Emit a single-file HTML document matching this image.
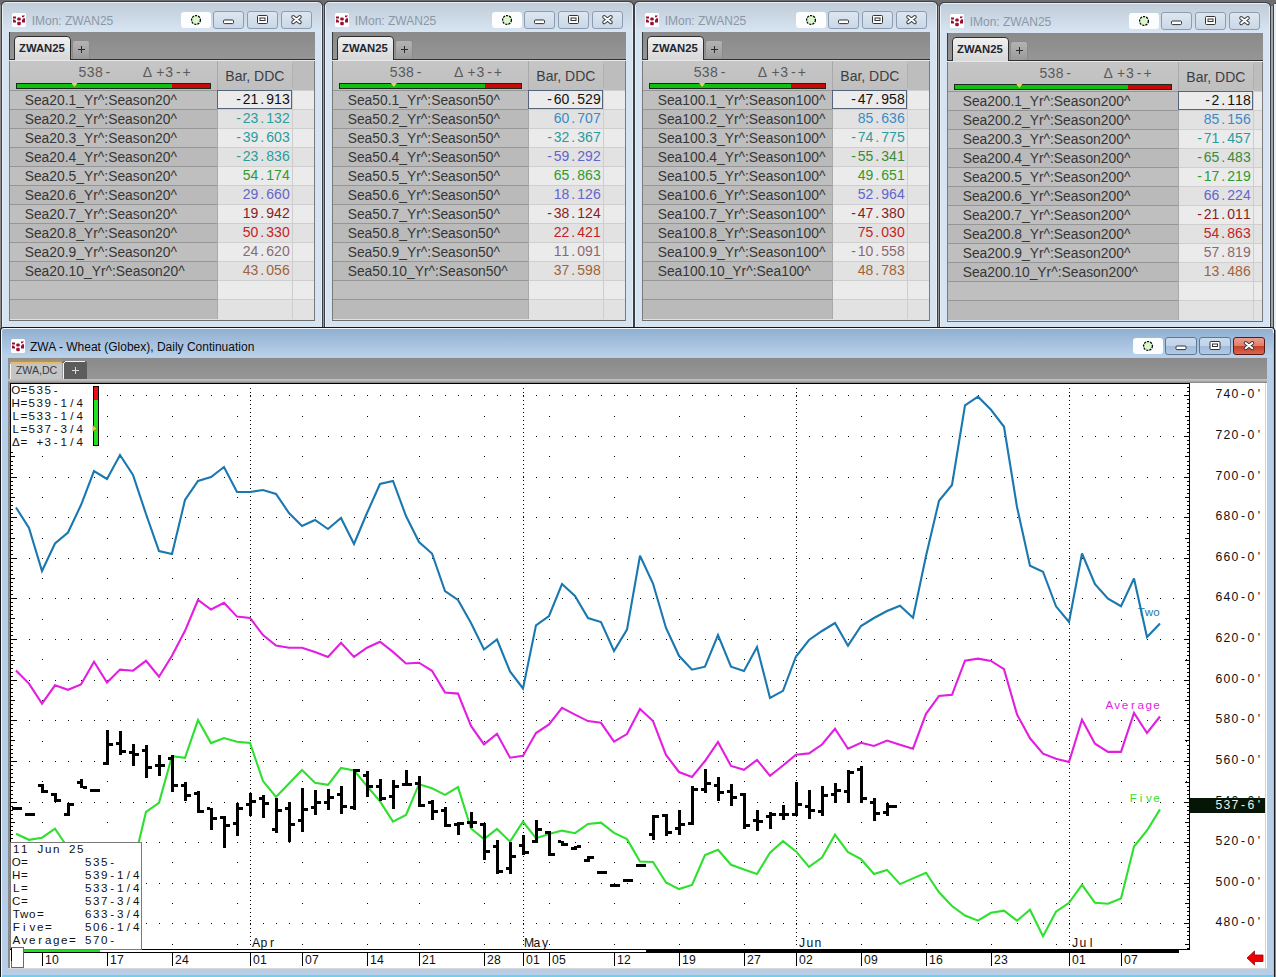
<!DOCTYPE html><html><head><meta charset="utf-8"><title>ZWA</title><style>
*{margin:0;padding:0}html,body{width:1276px;height:977px;overflow:hidden;background:#707070}
svg{position:absolute;left:0;top:0;font-family:"Liberation Sans", sans-serif}
</style></head><body>
<svg width="1276" height="977" viewBox="0 0 1276 977">
<defs>
<linearGradient id="gTitleI" x1="0" y1="0" x2="0" y2="1"><stop offset="0" stop-color="#c0ccd8"/><stop offset="1" stop-color="#d8e5f2"/></linearGradient>
<linearGradient id="gTitleA" x1="0" y1="0" x2="0" y2="1"><stop offset="0" stop-color="#90afd0"/><stop offset="1" stop-color="#bad2eb"/></linearGradient>
<linearGradient id="gTabArea" x1="0" y1="0" x2="0" y2="1"><stop offset="0" stop-color="#8a8a8a"/><stop offset="1" stop-color="#969696"/></linearGradient>
<linearGradient id="gTab" x1="0" y1="0" x2="0" y2="1"><stop offset="0" stop-color="#f2f2f2"/><stop offset="1" stop-color="#d6d6d6"/></linearGradient>
<linearGradient id="gPlus" x1="0" y1="0" x2="0" y2="1"><stop offset="0" stop-color="#b4b4b4"/><stop offset="1" stop-color="#9a9a9a"/></linearGradient>
<linearGradient id="gHdr" x1="0" y1="0" x2="0" y2="1"><stop offset="0" stop-color="#c6c6c6"/><stop offset="1" stop-color="#bfbfbf"/></linearGradient>
<linearGradient id="gBtnI" x1="0" y1="0" x2="0" y2="1"><stop offset="0" stop-color="#dde7f1"/><stop offset="1" stop-color="#c9d7e6"/></linearGradient>
<linearGradient id="gBtnA" x1="0" y1="0" x2="0" y2="1"><stop offset="0" stop-color="#cbdbee"/><stop offset="0.5" stop-color="#c0d3ea"/><stop offset="0.52" stop-color="#a3bcdb"/><stop offset="1" stop-color="#b4cae4"/></linearGradient>
<linearGradient id="gClose" x1="0" y1="0" x2="0" y2="1"><stop offset="0" stop-color="#eba090"/><stop offset="0.5" stop-color="#df7d68"/><stop offset="0.52" stop-color="#c8402a"/><stop offset="1" stop-color="#d86a50"/></linearGradient>
<linearGradient id="gBand" x1="0" y1="0" x2="0" y2="1"><stop offset="0" stop-color="#c4c4c4"/><stop offset="0.5" stop-color="#b4b4b4"/><stop offset="1" stop-color="#7e7e7e"/></linearGradient>
</defs>
<g shape-rendering="crispEdges">
<rect x="0" y="0" width="1276" height="977" fill="#6d6d6f" />
<path d="M1.5,330 L1.5,6 Q1.5,1.5 6,1.5 L317.5,1.5 Q322.5,1.5 322.5,6 L322.5,330" fill="#3c4046" stroke="#3c4046" stroke-width="1" shape-rendering="auto"/>
<path d="M2.5,330 L2.5,6 Q2.5,2.5 6,2.5 L317.5,2.5 Q321.5,2.5 321.5,6 L321.5,330" fill="#e8eef5" stroke="#e8eef5" stroke-width="1" shape-rendering="auto"/>
<rect x="3" y="3" width="318" height="29" fill="url(#gTitleI)" />
<rect x="3" y="32" width="318" height="298" fill="#d6e3f0" />
<rect x="12" y="13" width="14" height="14" rx="1.5" fill="#ffffff" shape-rendering="auto"/>
<g fill="#9a1030" shape-rendering="auto"><rect x="13" y="16.5" width="3" height="2"/><path d="M13,19.5 L14.5,19.5 L16,21 L16,22.5 L13,22.5 Z"/><rect x="17.2" y="17.6" width="3.6" height="3" rx="1.3"/><rect x="17.2" y="21.8" width="3.6" height="3.4" rx="1.3"/><path d="M22,15.5 L25,15.5 L23.5,17.3 L22,17.3 Z"/><path d="M23.5,18.3 L25,18.3 L25,22.6 L22,22.6 L22,20 Z"/></g>
<text x="31.7" y="24.8" font-size="12" fill="#8a98a6" text-anchor="start" font-weight="normal" >IMon: ZWAN25</text>
<rect x="181" y="12" width="30" height="16" rx="3" fill="#fbfdff" shape-rendering="auto"/>
<circle cx="196.0" cy="20.0" r="4.4" fill="#d9f7c9" stroke="#000" stroke-width="1.25" stroke-dasharray="2.2 1.0" shape-rendering="auto"/>
<rect x="213.5" y="11.5" width="30" height="17" rx="2.5" fill="url(#gBtnI)" stroke="#8d9cb0" shape-rendering="auto"/>
<rect x="223.5" y="20.0" width="10" height="3.6" rx="1" fill="#fff" stroke="#333" shape-rendering="auto"/>
<rect x="247.5" y="11.5" width="30" height="17" rx="2.5" fill="url(#gBtnI)" stroke="#8d9cb0" shape-rendering="auto"/>
<rect x="257.5" y="15.5" width="10" height="8" rx="1" fill="#fff" stroke="#333" stroke-width="1" shape-rendering="auto"/>
<rect x="260.0" y="18.0" width="5" height="2.5" fill="none" stroke="#333" stroke-width="1" shape-rendering="auto"/>
<rect x="281.5" y="11.5" width="30" height="17" rx="2.5" fill="url(#gBtnI)" stroke="#8d9cb0" shape-rendering="auto"/>
<path d="M293.2,17.0 L299.8,22.2 M299.8,17.0 L293.2,22.2" stroke="#3a3a3a" stroke-width="3.9" stroke-linecap="round" fill="none" shape-rendering="auto"/>
<path d="M293.2,17.0 L299.8,22.2 M299.8,17.0 L293.2,22.2" stroke="#fff" stroke-width="2.0" stroke-linecap="round" fill="none" shape-rendering="auto"/>
<rect x="9" y="32" width="306" height="28" fill="url(#gTabArea)" />
<rect x="9" y="32" width="1" height="28" fill="#3a3a3a" />
<rect x="9" y="59" width="306" height="1" fill="#303030" />
<rect x="9" y="60" width="306" height="1" fill="#e8e8e8" />
<path d="M14.5,60 L14.5,40 Q14.5,36.5 18,36.5 L67,36.5 Q70.5,36.5 70.5,40 L70.5,60" fill="url(#gTab)" stroke="#2e2e2e" stroke-width="1" shape-rendering="auto"/>
<rect x="15" y="59" width="55" height="1" fill="#dcdcdc" />
<text x="19" y="51.6" font-size="11.3" fill="#1e2630" text-anchor="start" font-weight="bold" >ZWAN25</text>
<path d="M72.5,59 L72.5,43 Q72.5,40.5 75,40.5 L87,40.5 Q89.5,40.5 89.5,43 L89.5,59" fill="url(#gPlus)" stroke="#8a8a8a" stroke-width="1" shape-rendering="auto"/>
<rect x="78" y="49" width="7" height="1" fill="#2a2a2a" />
<rect x="81" y="46" width="1" height="7" fill="#2a2a2a" />
<rect x="9" y="61" width="306" height="29" fill="url(#gHdr)" />
<rect x="292" y="61" width="23" height="29" fill="#bdbdbd" />
<rect x="217" y="61" width="1" height="29" fill="#a9a9a9" />
<rect x="292" y="64" width="1" height="24" fill="#b0b0b0" />
<rect x="16" y="83" width="195" height="6" fill="#1a2a1a" />
<rect x="17" y="84" width="155" height="4" fill="#10c010" />
<rect x="172" y="84" width="38" height="4" fill="#c80808" />
<path d="M71.5,83 L77.5,83 L74.5,87 Z" fill="#e8d060" shape-rendering="auto"/>
<text x="82.5 90.65 98.8 107.9" y="76.7" font-size="14" fill="#5a5a5a" text-anchor="middle" font-weight="normal">538-</text>
<text x="147.4 160.4 169.1 178.3 186.7" y="76.7" font-size="14" fill="#5a5a5a" text-anchor="middle" font-weight="normal">Δ+3-+</text>
<text x="225.3" y="81" font-size="14" fill="#3b3e44" text-anchor="start" font-weight="normal" >Bar, DDC</text>
<rect x="9" y="90" width="208" height="19" fill="#bfbfbf" />
<rect x="217" y="90" width="98" height="19" fill="#ebebeb" />
<rect x="9" y="90" width="208" height="1" fill="#969696" />
<rect x="217" y="90" width="98" height="1" fill="#cfcfcf" />
<rect x="217" y="90" width="1" height="19" fill="#a9a9a9" />
<rect x="292" y="90" width="1" height="19" fill="#cdcdcd" />
<text x="24.7" y="104.8" font-size="13.85" fill="#363636" text-anchor="start" font-weight="normal" >Sea20.1_Yr^:Season20^</text>
<text x="238.7 246.55 254.4 262.25 270.1 277.95 285.8" y="103.8" font-size="14" fill="#111111" text-anchor="middle" font-weight="normal">-21.913</text>
<rect x="9" y="109" width="208" height="19" fill="#bababa" />
<rect x="217" y="109" width="98" height="19" fill="#e2e2e2" />
<rect x="9" y="109" width="208" height="1" fill="#969696" />
<rect x="217" y="109" width="98" height="1" fill="#cfcfcf" />
<rect x="217" y="109" width="1" height="19" fill="#a9a9a9" />
<rect x="292" y="109" width="1" height="19" fill="#cdcdcd" />
<text x="24.7" y="123.8" font-size="13.85" fill="#363636" text-anchor="start" font-weight="normal" >Sea20.2_Yr^:Season20^</text>
<text x="238.7 246.55 254.4 262.25 270.1 277.95 285.8" y="122.8" font-size="14" fill="#2a9c9c" text-anchor="middle" font-weight="normal">-23.132</text>
<rect x="9" y="128" width="208" height="19" fill="#bfbfbf" />
<rect x="217" y="128" width="98" height="19" fill="#ebebeb" />
<rect x="9" y="128" width="208" height="1" fill="#969696" />
<rect x="217" y="128" width="98" height="1" fill="#cfcfcf" />
<rect x="217" y="128" width="1" height="19" fill="#a9a9a9" />
<rect x="292" y="128" width="1" height="19" fill="#cdcdcd" />
<text x="24.7" y="142.8" font-size="13.85" fill="#363636" text-anchor="start" font-weight="normal" >Sea20.3_Yr^:Season20^</text>
<text x="238.7 246.55 254.4 262.25 270.1 277.95 285.8" y="141.8" font-size="14" fill="#2a9c9c" text-anchor="middle" font-weight="normal">-39.603</text>
<rect x="9" y="147" width="208" height="19" fill="#bababa" />
<rect x="217" y="147" width="98" height="19" fill="#e2e2e2" />
<rect x="9" y="147" width="208" height="1" fill="#969696" />
<rect x="217" y="147" width="98" height="1" fill="#cfcfcf" />
<rect x="217" y="147" width="1" height="19" fill="#a9a9a9" />
<rect x="292" y="147" width="1" height="19" fill="#cdcdcd" />
<text x="24.7" y="161.8" font-size="13.85" fill="#363636" text-anchor="start" font-weight="normal" >Sea20.4_Yr^:Season20^</text>
<text x="238.7 246.55 254.4 262.25 270.1 277.95 285.8" y="160.8" font-size="14" fill="#2a9c9c" text-anchor="middle" font-weight="normal">-23.836</text>
<rect x="9" y="166" width="208" height="19" fill="#bfbfbf" />
<rect x="217" y="166" width="98" height="19" fill="#ebebeb" />
<rect x="9" y="166" width="208" height="1" fill="#969696" />
<rect x="217" y="166" width="98" height="1" fill="#cfcfcf" />
<rect x="217" y="166" width="1" height="19" fill="#a9a9a9" />
<rect x="292" y="166" width="1" height="19" fill="#cdcdcd" />
<text x="24.7" y="180.8" font-size="13.85" fill="#363636" text-anchor="start" font-weight="normal" >Sea20.5_Yr^:Season20^</text>
<text x="246.55 254.4 262.25 270.1 277.95 285.8" y="179.8" font-size="14" fill="#2f9a2f" text-anchor="middle" font-weight="normal">54.174</text>
<rect x="9" y="185" width="208" height="19" fill="#bababa" />
<rect x="217" y="185" width="98" height="19" fill="#e2e2e2" />
<rect x="9" y="185" width="208" height="1" fill="#969696" />
<rect x="217" y="185" width="98" height="1" fill="#cfcfcf" />
<rect x="217" y="185" width="1" height="19" fill="#a9a9a9" />
<rect x="292" y="185" width="1" height="19" fill="#cdcdcd" />
<text x="24.7" y="199.8" font-size="13.85" fill="#363636" text-anchor="start" font-weight="normal" >Sea20.6_Yr^:Season20^</text>
<text x="246.55 254.4 262.25 270.1 277.95 285.8" y="198.8" font-size="14" fill="#6464cc" text-anchor="middle" font-weight="normal">29.660</text>
<rect x="9" y="204" width="208" height="19" fill="#bfbfbf" />
<rect x="217" y="204" width="98" height="19" fill="#ebebeb" />
<rect x="9" y="204" width="208" height="1" fill="#969696" />
<rect x="217" y="204" width="98" height="1" fill="#cfcfcf" />
<rect x="217" y="204" width="1" height="19" fill="#a9a9a9" />
<rect x="292" y="204" width="1" height="19" fill="#cdcdcd" />
<text x="24.7" y="218.8" font-size="13.85" fill="#363636" text-anchor="start" font-weight="normal" >Sea20.7_Yr^:Season20^</text>
<text x="246.55 254.4 262.25 270.1 277.95 285.8" y="217.8" font-size="14" fill="#8a1c1c" text-anchor="middle" font-weight="normal">19.942</text>
<rect x="9" y="223" width="208" height="19" fill="#bababa" />
<rect x="217" y="223" width="98" height="19" fill="#e2e2e2" />
<rect x="9" y="223" width="208" height="1" fill="#969696" />
<rect x="217" y="223" width="98" height="1" fill="#cfcfcf" />
<rect x="217" y="223" width="1" height="19" fill="#a9a9a9" />
<rect x="292" y="223" width="1" height="19" fill="#cdcdcd" />
<text x="24.7" y="237.8" font-size="13.85" fill="#363636" text-anchor="start" font-weight="normal" >Sea20.8_Yr^:Season20^</text>
<text x="246.55 254.4 262.25 270.1 277.95 285.8" y="236.8" font-size="14" fill="#c42424" text-anchor="middle" font-weight="normal">50.330</text>
<rect x="9" y="242" width="208" height="19" fill="#bfbfbf" />
<rect x="217" y="242" width="98" height="19" fill="#ebebeb" />
<rect x="9" y="242" width="208" height="1" fill="#969696" />
<rect x="217" y="242" width="98" height="1" fill="#cfcfcf" />
<rect x="217" y="242" width="1" height="19" fill="#a9a9a9" />
<rect x="292" y="242" width="1" height="19" fill="#cdcdcd" />
<text x="24.7" y="256.8" font-size="13.85" fill="#363636" text-anchor="start" font-weight="normal" >Sea20.9_Yr^:Season20^</text>
<text x="246.55 254.4 262.25 270.1 277.95 285.8" y="255.8" font-size="14" fill="#8a6a72" text-anchor="middle" font-weight="normal">24.620</text>
<rect x="9" y="261" width="208" height="19" fill="#bababa" />
<rect x="217" y="261" width="98" height="19" fill="#e2e2e2" />
<rect x="9" y="261" width="208" height="1" fill="#969696" />
<rect x="217" y="261" width="98" height="1" fill="#cfcfcf" />
<rect x="217" y="261" width="1" height="19" fill="#a9a9a9" />
<rect x="292" y="261" width="1" height="19" fill="#cdcdcd" />
<text x="24.7" y="275.8" font-size="13.85" fill="#363636" text-anchor="start" font-weight="normal" >Sea20.10_Yr^:Season20^</text>
<text x="246.55 254.4 262.25 270.1 277.95 285.8" y="274.8" font-size="14" fill="#a0623a" text-anchor="middle" font-weight="normal">43.056</text>
<rect x="9" y="280" width="208" height="19" fill="#bfbfbf" />
<rect x="217" y="280" width="98" height="19" fill="#ebebeb" />
<rect x="9" y="280" width="208" height="1" fill="#969696" />
<rect x="217" y="280" width="98" height="1" fill="#cfcfcf" />
<rect x="217" y="280" width="1" height="19" fill="#a9a9a9" />
<rect x="292" y="280" width="1" height="19" fill="#cdcdcd" />
<rect x="9" y="299" width="208" height="20" fill="#bababa" />
<rect x="217" y="299" width="98" height="20" fill="#e2e2e2" />
<rect x="9" y="299" width="208" height="1" fill="#969696" />
<rect x="217" y="299" width="98" height="1" fill="#cfcfcf" />
<rect x="217" y="299" width="1" height="20" fill="#a9a9a9" />
<rect x="292" y="299" width="1" height="20" fill="#cdcdcd" />
<rect x="217.5" y="90.5" width="74" height="18" fill="none" stroke="#56657a"/>
<rect x="9" y="61" width="1" height="259" fill="#7a7a7a" />
<rect x="314" y="61" width="1" height="259" fill="#7a7a7a" />
<rect x="9" y="320" width="306" height="1" fill="#6e6e6e" />
<path d="M324.5,330 L324.5,6 Q324.5,1.5 329,1.5 L628.5,1.5 Q633.5,1.5 633.5,6 L633.5,330" fill="#3c4046" stroke="#3c4046" stroke-width="1" shape-rendering="auto"/>
<path d="M325.5,330 L325.5,6 Q325.5,2.5 329,2.5 L628.5,2.5 Q632.5,2.5 632.5,6 L632.5,330" fill="#e8eef5" stroke="#e8eef5" stroke-width="1" shape-rendering="auto"/>
<rect x="326" y="3" width="306" height="29" fill="url(#gTitleI)" />
<rect x="326" y="32" width="306" height="298" fill="#d6e3f0" />
<rect x="335" y="13" width="14" height="14" rx="1.5" fill="#ffffff" shape-rendering="auto"/>
<g fill="#9a1030" shape-rendering="auto"><rect x="336" y="16.5" width="3" height="2"/><path d="M336,19.5 L337.5,19.5 L339,21 L339,22.5 L336,22.5 Z"/><rect x="340.2" y="17.6" width="3.6" height="3" rx="1.3"/><rect x="340.2" y="21.8" width="3.6" height="3.4" rx="1.3"/><path d="M345,15.5 L348,15.5 L346.5,17.3 L345,17.3 Z"/><path d="M346.5,18.3 L348,18.3 L348,22.6 L345,22.6 L345,20 Z"/></g>
<text x="354.7" y="24.8" font-size="12" fill="#8a98a6" text-anchor="start" font-weight="normal" >IMon: ZWAN25</text>
<rect x="492" y="12" width="30" height="16" rx="3" fill="#fbfdff" shape-rendering="auto"/>
<circle cx="507.0" cy="20.0" r="4.4" fill="#d9f7c9" stroke="#000" stroke-width="1.25" stroke-dasharray="2.2 1.0" shape-rendering="auto"/>
<rect x="524.5" y="11.5" width="30" height="17" rx="2.5" fill="url(#gBtnI)" stroke="#8d9cb0" shape-rendering="auto"/>
<rect x="534.5" y="20.0" width="10" height="3.6" rx="1" fill="#fff" stroke="#333" shape-rendering="auto"/>
<rect x="558.5" y="11.5" width="30" height="17" rx="2.5" fill="url(#gBtnI)" stroke="#8d9cb0" shape-rendering="auto"/>
<rect x="568.5" y="15.5" width="10" height="8" rx="1" fill="#fff" stroke="#333" stroke-width="1" shape-rendering="auto"/>
<rect x="571.0" y="18.0" width="5" height="2.5" fill="none" stroke="#333" stroke-width="1" shape-rendering="auto"/>
<rect x="592.5" y="11.5" width="30" height="17" rx="2.5" fill="url(#gBtnI)" stroke="#8d9cb0" shape-rendering="auto"/>
<path d="M604.2,17.0 L610.8,22.2 M610.8,17.0 L604.2,22.2" stroke="#3a3a3a" stroke-width="3.9" stroke-linecap="round" fill="none" shape-rendering="auto"/>
<path d="M604.2,17.0 L610.8,22.2 M610.8,17.0 L604.2,22.2" stroke="#fff" stroke-width="2.0" stroke-linecap="round" fill="none" shape-rendering="auto"/>
<rect x="332" y="32" width="294" height="28" fill="url(#gTabArea)" />
<rect x="332" y="32" width="1" height="28" fill="#3a3a3a" />
<rect x="332" y="59" width="294" height="1" fill="#303030" />
<rect x="332" y="60" width="294" height="1" fill="#e8e8e8" />
<path d="M337.5,60 L337.5,40 Q337.5,36.5 341,36.5 L390,36.5 Q393.5,36.5 393.5,40 L393.5,60" fill="url(#gTab)" stroke="#2e2e2e" stroke-width="1" shape-rendering="auto"/>
<rect x="338" y="59" width="55" height="1" fill="#dcdcdc" />
<text x="342" y="51.6" font-size="11.3" fill="#1e2630" text-anchor="start" font-weight="bold" >ZWAN25</text>
<path d="M395.5,59 L395.5,43 Q395.5,40.5 398,40.5 L410,40.5 Q412.5,40.5 412.5,43 L412.5,59" fill="url(#gPlus)" stroke="#8a8a8a" stroke-width="1" shape-rendering="auto"/>
<rect x="401" y="49" width="7" height="1" fill="#2a2a2a" />
<rect x="404" y="46" width="1" height="7" fill="#2a2a2a" />
<rect x="332" y="61" width="294" height="29" fill="url(#gHdr)" />
<rect x="603" y="61" width="23" height="29" fill="#bdbdbd" />
<rect x="528" y="61" width="1" height="29" fill="#a9a9a9" />
<rect x="603" y="64" width="1" height="24" fill="#b0b0b0" />
<rect x="339" y="83" width="183" height="6" fill="#1a2a1a" />
<rect x="340" y="84" width="145" height="4" fill="#10c010" />
<rect x="485" y="84" width="36" height="4" fill="#c80808" />
<path d="M390.9,83 L396.9,83 L393.9,87 Z" fill="#e8d060" shape-rendering="auto"/>
<text x="393.7 401.85 410.0 419.1" y="76.7" font-size="14" fill="#5a5a5a" text-anchor="middle" font-weight="normal">538-</text>
<text x="458.6 471.6 480.3 489.5 497.9" y="76.7" font-size="14" fill="#5a5a5a" text-anchor="middle" font-weight="normal">Δ+3-+</text>
<text x="536.3" y="81" font-size="14" fill="#3b3e44" text-anchor="start" font-weight="normal" >Bar, DDC</text>
<rect x="332" y="90" width="196" height="19" fill="#bfbfbf" />
<rect x="528" y="90" width="98" height="19" fill="#ebebeb" />
<rect x="332" y="90" width="196" height="1" fill="#969696" />
<rect x="528" y="90" width="98" height="1" fill="#cfcfcf" />
<rect x="528" y="90" width="1" height="19" fill="#a9a9a9" />
<rect x="603" y="90" width="1" height="19" fill="#cdcdcd" />
<text x="347.7" y="104.8" font-size="13.85" fill="#363636" text-anchor="start" font-weight="normal" >Sea50.1_Yr^:Season50^</text>
<text x="549.7 557.55 565.4 573.25 581.1 588.95 596.8" y="103.8" font-size="14" fill="#111111" text-anchor="middle" font-weight="normal">-60.529</text>
<rect x="332" y="109" width="196" height="19" fill="#bababa" />
<rect x="528" y="109" width="98" height="19" fill="#e2e2e2" />
<rect x="332" y="109" width="196" height="1" fill="#969696" />
<rect x="528" y="109" width="98" height="1" fill="#cfcfcf" />
<rect x="528" y="109" width="1" height="19" fill="#a9a9a9" />
<rect x="603" y="109" width="1" height="19" fill="#cdcdcd" />
<text x="347.7" y="123.8" font-size="13.85" fill="#363636" text-anchor="start" font-weight="normal" >Sea50.2_Yr^:Season50^</text>
<text x="557.55 565.4 573.25 581.1 588.95 596.8" y="122.8" font-size="14" fill="#3a8ac6" text-anchor="middle" font-weight="normal">60.707</text>
<rect x="332" y="128" width="196" height="19" fill="#bfbfbf" />
<rect x="528" y="128" width="98" height="19" fill="#ebebeb" />
<rect x="332" y="128" width="196" height="1" fill="#969696" />
<rect x="528" y="128" width="98" height="1" fill="#cfcfcf" />
<rect x="528" y="128" width="1" height="19" fill="#a9a9a9" />
<rect x="603" y="128" width="1" height="19" fill="#cdcdcd" />
<text x="347.7" y="142.8" font-size="13.85" fill="#363636" text-anchor="start" font-weight="normal" >Sea50.3_Yr^:Season50^</text>
<text x="549.7 557.55 565.4 573.25 581.1 588.95 596.8" y="141.8" font-size="14" fill="#2a9c9c" text-anchor="middle" font-weight="normal">-32.367</text>
<rect x="332" y="147" width="196" height="19" fill="#bababa" />
<rect x="528" y="147" width="98" height="19" fill="#e2e2e2" />
<rect x="332" y="147" width="196" height="1" fill="#969696" />
<rect x="528" y="147" width="98" height="1" fill="#cfcfcf" />
<rect x="528" y="147" width="1" height="19" fill="#a9a9a9" />
<rect x="603" y="147" width="1" height="19" fill="#cdcdcd" />
<text x="347.7" y="161.8" font-size="13.85" fill="#363636" text-anchor="start" font-weight="normal" >Sea50.4_Yr^:Season50^</text>
<text x="549.7 557.55 565.4 573.25 581.1 588.95 596.8" y="160.8" font-size="14" fill="#6464cc" text-anchor="middle" font-weight="normal">-59.292</text>
<rect x="332" y="166" width="196" height="19" fill="#bfbfbf" />
<rect x="528" y="166" width="98" height="19" fill="#ebebeb" />
<rect x="332" y="166" width="196" height="1" fill="#969696" />
<rect x="528" y="166" width="98" height="1" fill="#cfcfcf" />
<rect x="528" y="166" width="1" height="19" fill="#a9a9a9" />
<rect x="603" y="166" width="1" height="19" fill="#cdcdcd" />
<text x="347.7" y="180.8" font-size="13.85" fill="#363636" text-anchor="start" font-weight="normal" >Sea50.5_Yr^:Season50^</text>
<text x="557.55 565.4 573.25 581.1 588.95 596.8" y="179.8" font-size="14" fill="#2f9a2f" text-anchor="middle" font-weight="normal">65.863</text>
<rect x="332" y="185" width="196" height="19" fill="#bababa" />
<rect x="528" y="185" width="98" height="19" fill="#e2e2e2" />
<rect x="332" y="185" width="196" height="1" fill="#969696" />
<rect x="528" y="185" width="98" height="1" fill="#cfcfcf" />
<rect x="528" y="185" width="1" height="19" fill="#a9a9a9" />
<rect x="603" y="185" width="1" height="19" fill="#cdcdcd" />
<text x="347.7" y="199.8" font-size="13.85" fill="#363636" text-anchor="start" font-weight="normal" >Sea50.6_Yr^:Season50^</text>
<text x="557.55 565.4 573.25 581.1 588.95 596.8" y="198.8" font-size="14" fill="#6464cc" text-anchor="middle" font-weight="normal">18.126</text>
<rect x="332" y="204" width="196" height="19" fill="#bfbfbf" />
<rect x="528" y="204" width="98" height="19" fill="#ebebeb" />
<rect x="332" y="204" width="196" height="1" fill="#969696" />
<rect x="528" y="204" width="98" height="1" fill="#cfcfcf" />
<rect x="528" y="204" width="1" height="19" fill="#a9a9a9" />
<rect x="603" y="204" width="1" height="19" fill="#cdcdcd" />
<text x="347.7" y="218.8" font-size="13.85" fill="#363636" text-anchor="start" font-weight="normal" >Sea50.7_Yr^:Season50^</text>
<text x="549.7 557.55 565.4 573.25 581.1 588.95 596.8" y="217.8" font-size="14" fill="#8a1c1c" text-anchor="middle" font-weight="normal">-38.124</text>
<rect x="332" y="223" width="196" height="19" fill="#bababa" />
<rect x="528" y="223" width="98" height="19" fill="#e2e2e2" />
<rect x="332" y="223" width="196" height="1" fill="#969696" />
<rect x="528" y="223" width="98" height="1" fill="#cfcfcf" />
<rect x="528" y="223" width="1" height="19" fill="#a9a9a9" />
<rect x="603" y="223" width="1" height="19" fill="#cdcdcd" />
<text x="347.7" y="237.8" font-size="13.85" fill="#363636" text-anchor="start" font-weight="normal" >Sea50.8_Yr^:Season50^</text>
<text x="557.55 565.4 573.25 581.1 588.95 596.8" y="236.8" font-size="14" fill="#c42424" text-anchor="middle" font-weight="normal">22.421</text>
<rect x="332" y="242" width="196" height="19" fill="#bfbfbf" />
<rect x="528" y="242" width="98" height="19" fill="#ebebeb" />
<rect x="332" y="242" width="196" height="1" fill="#969696" />
<rect x="528" y="242" width="98" height="1" fill="#cfcfcf" />
<rect x="528" y="242" width="1" height="19" fill="#a9a9a9" />
<rect x="603" y="242" width="1" height="19" fill="#cdcdcd" />
<text x="347.7" y="256.8" font-size="13.85" fill="#363636" text-anchor="start" font-weight="normal" >Sea50.9_Yr^:Season50^</text>
<text x="557.55 565.4 573.25 581.1 588.95 596.8" y="255.8" font-size="14" fill="#8a6a72" text-anchor="middle" font-weight="normal">11.091</text>
<rect x="332" y="261" width="196" height="19" fill="#bababa" />
<rect x="528" y="261" width="98" height="19" fill="#e2e2e2" />
<rect x="332" y="261" width="196" height="1" fill="#969696" />
<rect x="528" y="261" width="98" height="1" fill="#cfcfcf" />
<rect x="528" y="261" width="1" height="19" fill="#a9a9a9" />
<rect x="603" y="261" width="1" height="19" fill="#cdcdcd" />
<text x="347.7" y="275.8" font-size="13.85" fill="#363636" text-anchor="start" font-weight="normal" >Sea50.10_Yr^:Season50^</text>
<text x="557.55 565.4 573.25 581.1 588.95 596.8" y="274.8" font-size="14" fill="#a0623a" text-anchor="middle" font-weight="normal">37.598</text>
<rect x="332" y="280" width="196" height="19" fill="#bfbfbf" />
<rect x="528" y="280" width="98" height="19" fill="#ebebeb" />
<rect x="332" y="280" width="196" height="1" fill="#969696" />
<rect x="528" y="280" width="98" height="1" fill="#cfcfcf" />
<rect x="528" y="280" width="1" height="19" fill="#a9a9a9" />
<rect x="603" y="280" width="1" height="19" fill="#cdcdcd" />
<rect x="332" y="299" width="196" height="20" fill="#bababa" />
<rect x="528" y="299" width="98" height="20" fill="#e2e2e2" />
<rect x="332" y="299" width="196" height="1" fill="#969696" />
<rect x="528" y="299" width="98" height="1" fill="#cfcfcf" />
<rect x="528" y="299" width="1" height="20" fill="#a9a9a9" />
<rect x="603" y="299" width="1" height="20" fill="#cdcdcd" />
<rect x="528.5" y="90.5" width="74" height="18" fill="none" stroke="#56657a"/>
<rect x="332" y="61" width="1" height="259" fill="#7a7a7a" />
<rect x="625" y="61" width="1" height="259" fill="#7a7a7a" />
<rect x="332" y="320" width="294" height="1" fill="#6e6e6e" />
<path d="M634.5,330 L634.5,6 Q634.5,1.5 639,1.5 L932.5,1.5 Q937.5,1.5 937.5,6 L937.5,330" fill="#3c4046" stroke="#3c4046" stroke-width="1" shape-rendering="auto"/>
<path d="M635.5,330 L635.5,6 Q635.5,2.5 639,2.5 L932.5,2.5 Q936.5,2.5 936.5,6 L936.5,330" fill="#e8eef5" stroke="#e8eef5" stroke-width="1" shape-rendering="auto"/>
<rect x="636" y="3" width="300" height="29" fill="url(#gTitleI)" />
<rect x="636" y="32" width="300" height="298" fill="#d6e3f0" />
<rect x="645" y="13" width="14" height="14" rx="1.5" fill="#ffffff" shape-rendering="auto"/>
<g fill="#9a1030" shape-rendering="auto"><rect x="646" y="16.5" width="3" height="2"/><path d="M646,19.5 L647.5,19.5 L649,21 L649,22.5 L646,22.5 Z"/><rect x="650.2" y="17.6" width="3.6" height="3" rx="1.3"/><rect x="650.2" y="21.8" width="3.6" height="3.4" rx="1.3"/><path d="M655,15.5 L658,15.5 L656.5,17.3 L655,17.3 Z"/><path d="M656.5,18.3 L658,18.3 L658,22.6 L655,22.6 L655,20 Z"/></g>
<text x="664.7" y="24.8" font-size="12" fill="#8a98a6" text-anchor="start" font-weight="normal" >IMon: ZWAN25</text>
<rect x="796" y="12" width="30" height="16" rx="3" fill="#fbfdff" shape-rendering="auto"/>
<circle cx="811.0" cy="20.0" r="4.4" fill="#d9f7c9" stroke="#000" stroke-width="1.25" stroke-dasharray="2.2 1.0" shape-rendering="auto"/>
<rect x="828.5" y="11.5" width="30" height="17" rx="2.5" fill="url(#gBtnI)" stroke="#8d9cb0" shape-rendering="auto"/>
<rect x="838.5" y="20.0" width="10" height="3.6" rx="1" fill="#fff" stroke="#333" shape-rendering="auto"/>
<rect x="862.5" y="11.5" width="30" height="17" rx="2.5" fill="url(#gBtnI)" stroke="#8d9cb0" shape-rendering="auto"/>
<rect x="872.5" y="15.5" width="10" height="8" rx="1" fill="#fff" stroke="#333" stroke-width="1" shape-rendering="auto"/>
<rect x="875.0" y="18.0" width="5" height="2.5" fill="none" stroke="#333" stroke-width="1" shape-rendering="auto"/>
<rect x="896.5" y="11.5" width="30" height="17" rx="2.5" fill="url(#gBtnI)" stroke="#8d9cb0" shape-rendering="auto"/>
<path d="M908.2,17.0 L914.8,22.2 M914.8,17.0 L908.2,22.2" stroke="#3a3a3a" stroke-width="3.9" stroke-linecap="round" fill="none" shape-rendering="auto"/>
<path d="M908.2,17.0 L914.8,22.2 M914.8,17.0 L908.2,22.2" stroke="#fff" stroke-width="2.0" stroke-linecap="round" fill="none" shape-rendering="auto"/>
<rect x="642" y="32" width="288" height="28" fill="url(#gTabArea)" />
<rect x="642" y="32" width="1" height="28" fill="#3a3a3a" />
<rect x="642" y="59" width="288" height="1" fill="#303030" />
<rect x="642" y="60" width="288" height="1" fill="#e8e8e8" />
<path d="M647.5,60 L647.5,40 Q647.5,36.5 651,36.5 L700,36.5 Q703.5,36.5 703.5,40 L703.5,60" fill="url(#gTab)" stroke="#2e2e2e" stroke-width="1" shape-rendering="auto"/>
<rect x="648" y="59" width="55" height="1" fill="#dcdcdc" />
<text x="652" y="51.6" font-size="11.3" fill="#1e2630" text-anchor="start" font-weight="bold" >ZWAN25</text>
<path d="M705.5,59 L705.5,43 Q705.5,40.5 708,40.5 L720,40.5 Q722.5,40.5 722.5,43 L722.5,59" fill="url(#gPlus)" stroke="#8a8a8a" stroke-width="1" shape-rendering="auto"/>
<rect x="711" y="49" width="7" height="1" fill="#2a2a2a" />
<rect x="714" y="46" width="1" height="7" fill="#2a2a2a" />
<rect x="642" y="61" width="288" height="29" fill="url(#gHdr)" />
<rect x="907" y="61" width="23" height="29" fill="#bdbdbd" />
<rect x="832" y="61" width="1" height="29" fill="#a9a9a9" />
<rect x="907" y="64" width="1" height="24" fill="#b0b0b0" />
<rect x="649" y="83" width="177" height="6" fill="#1a2a1a" />
<rect x="650" y="84" width="141" height="4" fill="#10c010" />
<rect x="791" y="84" width="34" height="4" fill="#c80808" />
<path d="M699.1,83 L705.1,83 L702.1,87 Z" fill="#e8d060" shape-rendering="auto"/>
<text x="697.6 705.75 713.9 723.0" y="76.7" font-size="14" fill="#5a5a5a" text-anchor="middle" font-weight="normal">538-</text>
<text x="762.5 775.5 784.2 793.4 801.8" y="76.7" font-size="14" fill="#5a5a5a" text-anchor="middle" font-weight="normal">Δ+3-+</text>
<text x="840.3" y="81" font-size="14" fill="#3b3e44" text-anchor="start" font-weight="normal" >Bar, DDC</text>
<rect x="642" y="90" width="190" height="19" fill="#bfbfbf" />
<rect x="832" y="90" width="98" height="19" fill="#ebebeb" />
<rect x="642" y="90" width="190" height="1" fill="#969696" />
<rect x="832" y="90" width="98" height="1" fill="#cfcfcf" />
<rect x="832" y="90" width="1" height="19" fill="#a9a9a9" />
<rect x="907" y="90" width="1" height="19" fill="#cdcdcd" />
<text x="657.7" y="104.8" font-size="13.85" fill="#363636" text-anchor="start" font-weight="normal" >Sea100.1_Yr^:Season100^</text>
<text x="853.7 861.55 869.4 877.25 885.1 892.95 900.8" y="103.8" font-size="14" fill="#111111" text-anchor="middle" font-weight="normal">-47.958</text>
<rect x="642" y="109" width="190" height="19" fill="#bababa" />
<rect x="832" y="109" width="98" height="19" fill="#e2e2e2" />
<rect x="642" y="109" width="190" height="1" fill="#969696" />
<rect x="832" y="109" width="98" height="1" fill="#cfcfcf" />
<rect x="832" y="109" width="1" height="19" fill="#a9a9a9" />
<rect x="907" y="109" width="1" height="19" fill="#cdcdcd" />
<text x="657.7" y="123.8" font-size="13.85" fill="#363636" text-anchor="start" font-weight="normal" >Sea100.2_Yr^:Season100^</text>
<text x="861.55 869.4 877.25 885.1 892.95 900.8" y="122.8" font-size="14" fill="#3a8ac6" text-anchor="middle" font-weight="normal">85.636</text>
<rect x="642" y="128" width="190" height="19" fill="#bfbfbf" />
<rect x="832" y="128" width="98" height="19" fill="#ebebeb" />
<rect x="642" y="128" width="190" height="1" fill="#969696" />
<rect x="832" y="128" width="98" height="1" fill="#cfcfcf" />
<rect x="832" y="128" width="1" height="19" fill="#a9a9a9" />
<rect x="907" y="128" width="1" height="19" fill="#cdcdcd" />
<text x="657.7" y="142.8" font-size="13.85" fill="#363636" text-anchor="start" font-weight="normal" >Sea100.3_Yr^:Season100^</text>
<text x="853.7 861.55 869.4 877.25 885.1 892.95 900.8" y="141.8" font-size="14" fill="#2a9c9c" text-anchor="middle" font-weight="normal">-74.775</text>
<rect x="642" y="147" width="190" height="19" fill="#bababa" />
<rect x="832" y="147" width="98" height="19" fill="#e2e2e2" />
<rect x="642" y="147" width="190" height="1" fill="#969696" />
<rect x="832" y="147" width="98" height="1" fill="#cfcfcf" />
<rect x="832" y="147" width="1" height="19" fill="#a9a9a9" />
<rect x="907" y="147" width="1" height="19" fill="#cdcdcd" />
<text x="657.7" y="161.8" font-size="13.85" fill="#363636" text-anchor="start" font-weight="normal" >Sea100.4_Yr^:Season100^</text>
<text x="853.7 861.55 869.4 877.25 885.1 892.95 900.8" y="160.8" font-size="14" fill="#3a8a3a" text-anchor="middle" font-weight="normal">-55.341</text>
<rect x="642" y="166" width="190" height="19" fill="#bfbfbf" />
<rect x="832" y="166" width="98" height="19" fill="#ebebeb" />
<rect x="642" y="166" width="190" height="1" fill="#969696" />
<rect x="832" y="166" width="98" height="1" fill="#cfcfcf" />
<rect x="832" y="166" width="1" height="19" fill="#a9a9a9" />
<rect x="907" y="166" width="1" height="19" fill="#cdcdcd" />
<text x="657.7" y="180.8" font-size="13.85" fill="#363636" text-anchor="start" font-weight="normal" >Sea100.5_Yr^:Season100^</text>
<text x="861.55 869.4 877.25 885.1 892.95 900.8" y="179.8" font-size="14" fill="#2f9a2f" text-anchor="middle" font-weight="normal">49.651</text>
<rect x="642" y="185" width="190" height="19" fill="#bababa" />
<rect x="832" y="185" width="98" height="19" fill="#e2e2e2" />
<rect x="642" y="185" width="190" height="1" fill="#969696" />
<rect x="832" y="185" width="98" height="1" fill="#cfcfcf" />
<rect x="832" y="185" width="1" height="19" fill="#a9a9a9" />
<rect x="907" y="185" width="1" height="19" fill="#cdcdcd" />
<text x="657.7" y="199.8" font-size="13.85" fill="#363636" text-anchor="start" font-weight="normal" >Sea100.6_Yr^:Season100^</text>
<text x="861.55 869.4 877.25 885.1 892.95 900.8" y="198.8" font-size="14" fill="#6464cc" text-anchor="middle" font-weight="normal">52.964</text>
<rect x="642" y="204" width="190" height="19" fill="#bfbfbf" />
<rect x="832" y="204" width="98" height="19" fill="#ebebeb" />
<rect x="642" y="204" width="190" height="1" fill="#969696" />
<rect x="832" y="204" width="98" height="1" fill="#cfcfcf" />
<rect x="832" y="204" width="1" height="19" fill="#a9a9a9" />
<rect x="907" y="204" width="1" height="19" fill="#cdcdcd" />
<text x="657.7" y="218.8" font-size="13.85" fill="#363636" text-anchor="start" font-weight="normal" >Sea100.7_Yr^:Season100^</text>
<text x="853.7 861.55 869.4 877.25 885.1 892.95 900.8" y="217.8" font-size="14" fill="#8a1c1c" text-anchor="middle" font-weight="normal">-47.380</text>
<rect x="642" y="223" width="190" height="19" fill="#bababa" />
<rect x="832" y="223" width="98" height="19" fill="#e2e2e2" />
<rect x="642" y="223" width="190" height="1" fill="#969696" />
<rect x="832" y="223" width="98" height="1" fill="#cfcfcf" />
<rect x="832" y="223" width="1" height="19" fill="#a9a9a9" />
<rect x="907" y="223" width="1" height="19" fill="#cdcdcd" />
<text x="657.7" y="237.8" font-size="13.85" fill="#363636" text-anchor="start" font-weight="normal" >Sea100.8_Yr^:Season100^</text>
<text x="861.55 869.4 877.25 885.1 892.95 900.8" y="236.8" font-size="14" fill="#c42424" text-anchor="middle" font-weight="normal">75.030</text>
<rect x="642" y="242" width="190" height="19" fill="#bfbfbf" />
<rect x="832" y="242" width="98" height="19" fill="#ebebeb" />
<rect x="642" y="242" width="190" height="1" fill="#969696" />
<rect x="832" y="242" width="98" height="1" fill="#cfcfcf" />
<rect x="832" y="242" width="1" height="19" fill="#a9a9a9" />
<rect x="907" y="242" width="1" height="19" fill="#cdcdcd" />
<text x="657.7" y="256.8" font-size="13.85" fill="#363636" text-anchor="start" font-weight="normal" >Sea100.9_Yr^:Season100^</text>
<text x="853.7 861.55 869.4 877.25 885.1 892.95 900.8" y="255.8" font-size="14" fill="#8a6a72" text-anchor="middle" font-weight="normal">-10.558</text>
<rect x="642" y="261" width="190" height="19" fill="#bababa" />
<rect x="832" y="261" width="98" height="19" fill="#e2e2e2" />
<rect x="642" y="261" width="190" height="1" fill="#969696" />
<rect x="832" y="261" width="98" height="1" fill="#cfcfcf" />
<rect x="832" y="261" width="1" height="19" fill="#a9a9a9" />
<rect x="907" y="261" width="1" height="19" fill="#cdcdcd" />
<text x="657.7" y="275.8" font-size="13.85" fill="#363636" text-anchor="start" font-weight="normal" >Sea100.10_Yr^:Sea100^</text>
<text x="861.55 869.4 877.25 885.1 892.95 900.8" y="274.8" font-size="14" fill="#a0623a" text-anchor="middle" font-weight="normal">48.783</text>
<rect x="642" y="280" width="190" height="19" fill="#bfbfbf" />
<rect x="832" y="280" width="98" height="19" fill="#ebebeb" />
<rect x="642" y="280" width="190" height="1" fill="#969696" />
<rect x="832" y="280" width="98" height="1" fill="#cfcfcf" />
<rect x="832" y="280" width="1" height="19" fill="#a9a9a9" />
<rect x="907" y="280" width="1" height="19" fill="#cdcdcd" />
<rect x="642" y="299" width="190" height="20" fill="#bababa" />
<rect x="832" y="299" width="98" height="20" fill="#e2e2e2" />
<rect x="642" y="299" width="190" height="1" fill="#969696" />
<rect x="832" y="299" width="98" height="1" fill="#cfcfcf" />
<rect x="832" y="299" width="1" height="20" fill="#a9a9a9" />
<rect x="907" y="299" width="1" height="20" fill="#cdcdcd" />
<rect x="832.5" y="90.5" width="74" height="18" fill="none" stroke="#56657a"/>
<rect x="642" y="61" width="1" height="259" fill="#7a7a7a" />
<rect x="929" y="61" width="1" height="259" fill="#7a7a7a" />
<rect x="642" y="320" width="288" height="1" fill="#6e6e6e" />
<path d="M939.5,330 L939.5,7 Q939.5,2.5 944,2.5 L1265.5,2.5 Q1270.5,2.5 1270.5,7 L1270.5,330" fill="#3c4046" stroke="#3c4046" stroke-width="1" shape-rendering="auto"/>
<path d="M940.5,330 L940.5,7 Q940.5,3.5 944,3.5 L1265.5,3.5 Q1269.5,3.5 1269.5,7 L1269.5,330" fill="#e8eef5" stroke="#e8eef5" stroke-width="1" shape-rendering="auto"/>
<rect x="941" y="4" width="328" height="29" fill="url(#gTitleI)" />
<rect x="941" y="33" width="328" height="297" fill="#d6e3f0" />
<rect x="950" y="14" width="14" height="14" rx="1.5" fill="#ffffff" shape-rendering="auto"/>
<g fill="#9a1030" shape-rendering="auto"><rect x="951" y="17.5" width="3" height="2"/><path d="M951,20.5 L952.5,20.5 L954,22 L954,23.5 L951,23.5 Z"/><rect x="955.2" y="18.6" width="3.6" height="3" rx="1.3"/><rect x="955.2" y="22.8" width="3.6" height="3.4" rx="1.3"/><path d="M960,16.5 L963,16.5 L961.5,18.3 L960,18.3 Z"/><path d="M961.5,19.3 L963,19.3 L963,23.6 L960,23.6 L960,21 Z"/></g>
<text x="969.7" y="25.8" font-size="12" fill="#8a98a6" text-anchor="start" font-weight="normal" >IMon: ZWAN25</text>
<rect x="1129" y="13" width="30" height="16" rx="3" fill="#fbfdff" shape-rendering="auto"/>
<circle cx="1144.0" cy="21.0" r="4.4" fill="#d9f7c9" stroke="#000" stroke-width="1.25" stroke-dasharray="2.2 1.0" shape-rendering="auto"/>
<rect x="1161.5" y="12.5" width="30" height="17" rx="2.5" fill="url(#gBtnI)" stroke="#8d9cb0" shape-rendering="auto"/>
<rect x="1171.5" y="21.0" width="10" height="3.6" rx="1" fill="#fff" stroke="#333" shape-rendering="auto"/>
<rect x="1195.5" y="12.5" width="30" height="17" rx="2.5" fill="url(#gBtnI)" stroke="#8d9cb0" shape-rendering="auto"/>
<rect x="1205.5" y="16.5" width="10" height="8" rx="1" fill="#fff" stroke="#333" stroke-width="1" shape-rendering="auto"/>
<rect x="1208.0" y="19.0" width="5" height="2.5" fill="none" stroke="#333" stroke-width="1" shape-rendering="auto"/>
<rect x="1229.5" y="12.5" width="30" height="17" rx="2.5" fill="url(#gBtnI)" stroke="#8d9cb0" shape-rendering="auto"/>
<path d="M1241.2,18.0 L1247.8,23.2 M1247.8,18.0 L1241.2,23.2" stroke="#3a3a3a" stroke-width="3.9" stroke-linecap="round" fill="none" shape-rendering="auto"/>
<path d="M1241.2,18.0 L1247.8,23.2 M1247.8,18.0 L1241.2,23.2" stroke="#fff" stroke-width="2.0" stroke-linecap="round" fill="none" shape-rendering="auto"/>
<rect x="947" y="33" width="316" height="28" fill="url(#gTabArea)" />
<rect x="947" y="33" width="1" height="28" fill="#3a3a3a" />
<rect x="947" y="60" width="316" height="1" fill="#303030" />
<rect x="947" y="61" width="316" height="1" fill="#e8e8e8" />
<path d="M952.5,61 L952.5,41 Q952.5,37.5 956,37.5 L1005,37.5 Q1008.5,37.5 1008.5,41 L1008.5,61" fill="url(#gTab)" stroke="#2e2e2e" stroke-width="1" shape-rendering="auto"/>
<rect x="953" y="60" width="55" height="1" fill="#dcdcdc" />
<text x="957" y="52.6" font-size="11.3" fill="#1e2630" text-anchor="start" font-weight="bold" >ZWAN25</text>
<path d="M1010.5,60 L1010.5,44 Q1010.5,41.5 1013,41.5 L1025,41.5 Q1027.5,41.5 1027.5,44 L1027.5,60" fill="url(#gPlus)" stroke="#8a8a8a" stroke-width="1" shape-rendering="auto"/>
<rect x="1016" y="50" width="7" height="1" fill="#2a2a2a" />
<rect x="1019" y="47" width="1" height="7" fill="#2a2a2a" />
<rect x="947" y="62" width="316" height="29" fill="url(#gHdr)" />
<rect x="1253" y="62" width="10" height="29" fill="#bdbdbd" />
<rect x="1178" y="62" width="1" height="29" fill="#a9a9a9" />
<rect x="1253" y="65" width="1" height="24" fill="#b0b0b0" />
<rect x="954" y="84" width="218" height="6" fill="#1a2a1a" />
<rect x="955" y="85" width="173" height="4" fill="#10c010" />
<rect x="1128" y="85" width="43" height="4" fill="#c80808" />
<path d="M1016.4,84 L1022.4,84 L1019.4,88 Z" fill="#e8d060" shape-rendering="auto"/>
<text x="1043.3 1051.45 1059.6 1068.7" y="77.7" font-size="14" fill="#5a5a5a" text-anchor="middle" font-weight="normal">538-</text>
<text x="1108.2 1121.2 1129.9 1139.1 1147.5" y="77.7" font-size="14" fill="#5a5a5a" text-anchor="middle" font-weight="normal">Δ+3-+</text>
<text x="1186.3" y="82" font-size="14" fill="#3b3e44" text-anchor="start" font-weight="normal" >Bar, DDC</text>
<rect x="947" y="91" width="231" height="19" fill="#bfbfbf" />
<rect x="1178" y="91" width="85" height="19" fill="#ebebeb" />
<rect x="947" y="91" width="231" height="1" fill="#969696" />
<rect x="1178" y="91" width="85" height="1" fill="#cfcfcf" />
<rect x="1178" y="91" width="1" height="19" fill="#a9a9a9" />
<rect x="1253" y="91" width="1" height="19" fill="#cdcdcd" />
<text x="962.7" y="105.8" font-size="13.85" fill="#363636" text-anchor="start" font-weight="normal" >Sea200.1_Yr^:Season200^</text>
<text x="1207.55 1215.4 1223.25 1231.1 1238.95 1246.8" y="104.8" font-size="14" fill="#111111" text-anchor="middle" font-weight="normal">-2.118</text>
<rect x="947" y="110" width="231" height="19" fill="#bababa" />
<rect x="1178" y="110" width="85" height="19" fill="#e2e2e2" />
<rect x="947" y="110" width="231" height="1" fill="#969696" />
<rect x="1178" y="110" width="85" height="1" fill="#cfcfcf" />
<rect x="1178" y="110" width="1" height="19" fill="#a9a9a9" />
<rect x="1253" y="110" width="1" height="19" fill="#cdcdcd" />
<text x="962.7" y="124.8" font-size="13.85" fill="#363636" text-anchor="start" font-weight="normal" >Sea200.2_Yr^:Season200^</text>
<text x="1207.55 1215.4 1223.25 1231.1 1238.95 1246.8" y="123.8" font-size="14" fill="#3a8ac6" text-anchor="middle" font-weight="normal">85.156</text>
<rect x="947" y="129" width="231" height="19" fill="#bfbfbf" />
<rect x="1178" y="129" width="85" height="19" fill="#ebebeb" />
<rect x="947" y="129" width="231" height="1" fill="#969696" />
<rect x="1178" y="129" width="85" height="1" fill="#cfcfcf" />
<rect x="1178" y="129" width="1" height="19" fill="#a9a9a9" />
<rect x="1253" y="129" width="1" height="19" fill="#cdcdcd" />
<text x="962.7" y="143.8" font-size="13.85" fill="#363636" text-anchor="start" font-weight="normal" >Sea200.3_Yr^:Season200^</text>
<text x="1199.7 1207.55 1215.4 1223.25 1231.1 1238.95 1246.8" y="142.8" font-size="14" fill="#2a9c9c" text-anchor="middle" font-weight="normal">-71.457</text>
<rect x="947" y="148" width="231" height="19" fill="#bababa" />
<rect x="1178" y="148" width="85" height="19" fill="#e2e2e2" />
<rect x="947" y="148" width="231" height="1" fill="#969696" />
<rect x="1178" y="148" width="85" height="1" fill="#cfcfcf" />
<rect x="1178" y="148" width="1" height="19" fill="#a9a9a9" />
<rect x="1253" y="148" width="1" height="19" fill="#cdcdcd" />
<text x="962.7" y="162.8" font-size="13.85" fill="#363636" text-anchor="start" font-weight="normal" >Sea200.4_Yr^:Season200^</text>
<text x="1199.7 1207.55 1215.4 1223.25 1231.1 1238.95 1246.8" y="161.8" font-size="14" fill="#3a8a3a" text-anchor="middle" font-weight="normal">-65.483</text>
<rect x="947" y="167" width="231" height="19" fill="#bfbfbf" />
<rect x="1178" y="167" width="85" height="19" fill="#ebebeb" />
<rect x="947" y="167" width="231" height="1" fill="#969696" />
<rect x="1178" y="167" width="85" height="1" fill="#cfcfcf" />
<rect x="1178" y="167" width="1" height="19" fill="#a9a9a9" />
<rect x="1253" y="167" width="1" height="19" fill="#cdcdcd" />
<text x="962.7" y="181.8" font-size="13.85" fill="#363636" text-anchor="start" font-weight="normal" >Sea200.5_Yr^:Season200^</text>
<text x="1199.7 1207.55 1215.4 1223.25 1231.1 1238.95 1246.8" y="180.8" font-size="14" fill="#2f9a2f" text-anchor="middle" font-weight="normal">-17.219</text>
<rect x="947" y="186" width="231" height="19" fill="#bababa" />
<rect x="1178" y="186" width="85" height="19" fill="#e2e2e2" />
<rect x="947" y="186" width="231" height="1" fill="#969696" />
<rect x="1178" y="186" width="85" height="1" fill="#cfcfcf" />
<rect x="1178" y="186" width="1" height="19" fill="#a9a9a9" />
<rect x="1253" y="186" width="1" height="19" fill="#cdcdcd" />
<text x="962.7" y="200.8" font-size="13.85" fill="#363636" text-anchor="start" font-weight="normal" >Sea200.6_Yr^:Season200^</text>
<text x="1207.55 1215.4 1223.25 1231.1 1238.95 1246.8" y="199.8" font-size="14" fill="#6464cc" text-anchor="middle" font-weight="normal">66.224</text>
<rect x="947" y="205" width="231" height="19" fill="#bfbfbf" />
<rect x="1178" y="205" width="85" height="19" fill="#ebebeb" />
<rect x="947" y="205" width="231" height="1" fill="#969696" />
<rect x="1178" y="205" width="85" height="1" fill="#cfcfcf" />
<rect x="1178" y="205" width="1" height="19" fill="#a9a9a9" />
<rect x="1253" y="205" width="1" height="19" fill="#cdcdcd" />
<text x="962.7" y="219.8" font-size="13.85" fill="#363636" text-anchor="start" font-weight="normal" >Sea200.7_Yr^:Season200^</text>
<text x="1199.7 1207.55 1215.4 1223.25 1231.1 1238.95 1246.8" y="218.8" font-size="14" fill="#8a1c1c" text-anchor="middle" font-weight="normal">-21.011</text>
<rect x="947" y="224" width="231" height="19" fill="#bababa" />
<rect x="1178" y="224" width="85" height="19" fill="#e2e2e2" />
<rect x="947" y="224" width="231" height="1" fill="#969696" />
<rect x="1178" y="224" width="85" height="1" fill="#cfcfcf" />
<rect x="1178" y="224" width="1" height="19" fill="#a9a9a9" />
<rect x="1253" y="224" width="1" height="19" fill="#cdcdcd" />
<text x="962.7" y="238.8" font-size="13.85" fill="#363636" text-anchor="start" font-weight="normal" >Sea200.8_Yr^:Season200^</text>
<text x="1207.55 1215.4 1223.25 1231.1 1238.95 1246.8" y="237.8" font-size="14" fill="#c42424" text-anchor="middle" font-weight="normal">54.863</text>
<rect x="947" y="243" width="231" height="19" fill="#bfbfbf" />
<rect x="1178" y="243" width="85" height="19" fill="#ebebeb" />
<rect x="947" y="243" width="231" height="1" fill="#969696" />
<rect x="1178" y="243" width="85" height="1" fill="#cfcfcf" />
<rect x="1178" y="243" width="1" height="19" fill="#a9a9a9" />
<rect x="1253" y="243" width="1" height="19" fill="#cdcdcd" />
<text x="962.7" y="257.8" font-size="13.85" fill="#363636" text-anchor="start" font-weight="normal" >Sea200.9_Yr^:Season200^</text>
<text x="1207.55 1215.4 1223.25 1231.1 1238.95 1246.8" y="256.8" font-size="14" fill="#8a6a72" text-anchor="middle" font-weight="normal">57.819</text>
<rect x="947" y="262" width="231" height="19" fill="#bababa" />
<rect x="1178" y="262" width="85" height="19" fill="#e2e2e2" />
<rect x="947" y="262" width="231" height="1" fill="#969696" />
<rect x="1178" y="262" width="85" height="1" fill="#cfcfcf" />
<rect x="1178" y="262" width="1" height="19" fill="#a9a9a9" />
<rect x="1253" y="262" width="1" height="19" fill="#cdcdcd" />
<text x="962.7" y="276.8" font-size="13.85" fill="#363636" text-anchor="start" font-weight="normal" >Sea200.10_Yr^:Season200^</text>
<text x="1207.55 1215.4 1223.25 1231.1 1238.95 1246.8" y="275.8" font-size="14" fill="#a0623a" text-anchor="middle" font-weight="normal">13.486</text>
<rect x="947" y="281" width="231" height="19" fill="#bfbfbf" />
<rect x="1178" y="281" width="85" height="19" fill="#ebebeb" />
<rect x="947" y="281" width="231" height="1" fill="#969696" />
<rect x="1178" y="281" width="85" height="1" fill="#cfcfcf" />
<rect x="1178" y="281" width="1" height="19" fill="#a9a9a9" />
<rect x="1253" y="281" width="1" height="19" fill="#cdcdcd" />
<rect x="947" y="300" width="231" height="20" fill="#bababa" />
<rect x="1178" y="300" width="85" height="20" fill="#e2e2e2" />
<rect x="947" y="300" width="231" height="1" fill="#969696" />
<rect x="1178" y="300" width="85" height="1" fill="#cfcfcf" />
<rect x="1178" y="300" width="1" height="20" fill="#a9a9a9" />
<rect x="1253" y="300" width="1" height="20" fill="#cdcdcd" />
<rect x="1178.5" y="91.5" width="74" height="18" fill="none" stroke="#56657a"/>
<rect x="947" y="62" width="1" height="259" fill="#7a7a7a" />
<rect x="1262" y="62" width="1" height="259" fill="#7a7a7a" />
<rect x="947" y="321" width="316" height="1" fill="#6e6e6e" />
<path d="M1273.5,330 L1273.5,7 Q1273.5,2.5 1278,2.5" fill="none" stroke="#3c4046" stroke-width="1" shape-rendering="auto"/>
<rect x="1274" y="4" width="2" height="326" fill="#e6eef6" />
<rect x="323" y="6" width="1" height="322" fill="#9a9a9a" />
<rect x="0" y="5" width="1" height="323" fill="#8e8e8e" />
<rect x="938" y="6" width="1" height="322" fill="#9a9a9a" />
<rect x="1271" y="6" width="2" height="322" fill="#a4a4a4" />
<path d="M0,977 L0,331 Q0,327 4,327 L1271,327 Q1275,327 1275,331 L1275,977 Z" fill="#141618" shape-rendering="auto"/>
<rect x="1275" y="330" width="1" height="650" fill="#8c8c8c" />
<path d="M1,977 L1,331 Q1,328 4,328 L1271,328 Q1274,328 1274,331 L1274,977 Z" fill="#f4f8fc" shape-rendering="auto"/>
<path d="M2,357 L2,331 Q2,329 4,329 L1271,329 Q1273,329 1273,331 L1273,357 Z" fill="url(#gTitleA)" shape-rendering="auto"/>
<rect x="2" y="357" width="1271" height="620" fill="#b6cee7" />
<rect x="1273" y="333" width="1" height="644" fill="#7fd3ee" />
<rect x="2" y="975" width="1272" height="2" fill="#6fd0ec" />
<rect x="1274" y="331" width="1" height="646" fill="#1a1c20" />
<rect x="11" y="339" width="14" height="14" rx="1.5" fill="#ffffff" shape-rendering="auto"/>
<g fill="#9a1030" shape-rendering="auto"><rect x="12" y="342.5" width="3" height="2"/><path d="M12,345.5 L13.5,345.5 L15,347 L15,348.5 L12,348.5 Z"/><rect x="16.2" y="343.6" width="3.6" height="3" rx="1.3"/><rect x="16.2" y="347.8" width="3.6" height="3.4" rx="1.3"/><path d="M21,341.5 L24,341.5 L22.5,343.3 L21,343.3 Z"/><path d="M22.5,344.3 L24,344.3 L24,348.6 L21,348.6 L21,346 Z"/></g>
<text x="30" y="350.8" font-size="12" fill="#0c0c0c" text-anchor="start" font-weight="normal" >ZWA - Wheat (Globex), Daily Continuation</text>
<rect x="1133" y="338" width="30" height="16" rx="3" fill="#fbfdff" shape-rendering="auto"/>
<circle cx="1148.0" cy="346.0" r="4.4" fill="#d9f7c9" stroke="#000" stroke-width="1.25" stroke-dasharray="2.2 1.0" shape-rendering="auto"/>
<rect x="1165.5" y="337.5" width="31" height="17" rx="2.5" fill="url(#gBtnA)" stroke="#5f7896" shape-rendering="auto"/>
<rect x="1176.0" y="346.0" width="10" height="3.6" rx="1" fill="#fff" stroke="#333" shape-rendering="auto"/>
<rect x="1199.5" y="337.5" width="31" height="17" rx="2.5" fill="url(#gBtnA)" stroke="#5f7896" shape-rendering="auto"/>
<rect x="1210.0" y="341.5" width="10" height="8" rx="1" fill="#fff" stroke="#333" stroke-width="1" shape-rendering="auto"/>
<rect x="1212.5" y="344.0" width="5" height="2.5" fill="none" stroke="#333" stroke-width="1" shape-rendering="auto"/>
<rect x="1233.5" y="337.5" width="31" height="17" rx="2.5" fill="url(#gClose)" stroke="#5a1a14" shape-rendering="auto"/>
<path d="M1245.7,343.0 L1252.3,348.2 M1252.3,343.0 L1245.7,348.2" stroke="#3a3a3a" stroke-width="3.9" stroke-linecap="round" fill="none" shape-rendering="auto"/>
<path d="M1245.7,343.0 L1252.3,348.2 M1252.3,343.0 L1245.7,348.2" stroke="#fff" stroke-width="2.0" stroke-linecap="round" fill="none" shape-rendering="auto"/>
<rect x="8" y="358" width="1259" height="21" fill="url(#gTabArea)" />
<linearGradient id="gGlow" x1="0" y1="0" x2="0" y2="1"><stop offset="0" stop-color="#8e8c8a"/><stop offset="1" stop-color="#b39468"/></linearGradient>
<rect x="10" y="358" width="52" height="4" fill="url(#gGlow)" />
<path d="M10,379 L10,364 Q10,362 12,362 L60,362 Q62,362 62,364 L62,379 Z" fill="#c4c4c4" shape-rendering="auto"/>
<rect x="11" y="362" width="50" height="2" fill="#e6bc62" />
<rect x="10" y="364" width="1" height="15" fill="#f4f4f4" />
<rect x="62" y="363" width="1" height="16" fill="#9a9a9a" />
<g transform="scale(0.9,1)">
<text x="17.56" y="373.8" font-size="11.8" fill="#363c44" text-anchor="start" font-weight="normal" >ZWA,DC</text>
</g>
<path d="M63,379 L63,363 Q63,361 65,361 L85,361 Q87,361 87,363 L87,379 Z" fill="#5c5c5c" shape-rendering="auto"/>
<rect x="65" y="361" width="20" height="1" fill="#f4f4f4" />
<rect x="63" y="363" width="1" height="16" fill="#f4f4f4" />
<rect x="64" y="362" width="1" height="1" fill="#f4f4f4" />
<rect x="72" y="370" width="7" height="1" fill="#dcdcdc" />
<rect x="75" y="367" width="1" height="7" fill="#dcdcdc" />
<rect x="8" y="379" width="1259" height="4" fill="url(#gBand)" />
<rect x="8" y="383" width="1259" height="586" fill="#ffffff" />
<rect x="8" y="383" width="2" height="586" fill="#8a8a8a" />
<rect x="8" y="968" width="1259" height="1" fill="#d8d8d8" />
<rect x="1265" y="383" width="1" height="586" fill="#d4d4d4" />
<rect x="10" y="383" width="1180" height="1" fill="#000" />
<rect x="10" y="383" width="1" height="567" fill="#000" />
<rect x="1189" y="383" width="1" height="567" fill="#000" />
<rect x="142" y="949" width="1048" height="1" fill="#000" />
<path d="M16 395h1v1h-1zM16 436h1v1h-1zM16 477h1v1h-1zM16 517h1v1h-1zM16 558h1v1h-1zM16 598h1v1h-1zM16 639h1v1h-1zM16 680h1v1h-1zM16 720h1v1h-1zM16 761h1v1h-1zM16 802h1v1h-1zM16 842h1v1h-1zM16 883h1v1h-1zM16 923h1v1h-1zM29 395h1v1h-1zM29 436h1v1h-1zM29 477h1v1h-1zM29 517h1v1h-1zM29 558h1v1h-1zM29 598h1v1h-1zM29 639h1v1h-1zM29 680h1v1h-1zM29 720h1v1h-1zM29 761h1v1h-1zM29 802h1v1h-1zM29 842h1v1h-1zM29 883h1v1h-1zM29 923h1v1h-1zM42 395h1v1h-1zM42 416h1v1h-1zM42 436h1v1h-1zM42 456h1v1h-1zM42 477h1v1h-1zM42 497h1v1h-1zM42 517h1v1h-1zM42 538h1v1h-1zM42 558h1v1h-1zM42 578h1v1h-1zM42 598h1v1h-1zM42 619h1v1h-1zM42 639h1v1h-1zM42 659h1v1h-1zM42 680h1v1h-1zM42 700h1v1h-1zM42 720h1v1h-1zM42 741h1v1h-1zM42 761h1v1h-1zM42 781h1v1h-1zM42 802h1v1h-1zM42 822h1v1h-1zM42 842h1v1h-1zM42 862h1v1h-1zM42 883h1v1h-1zM42 903h1v1h-1zM42 923h1v1h-1zM42 944h1v1h-1zM55 395h1v1h-1zM55 436h1v1h-1zM55 477h1v1h-1zM55 517h1v1h-1zM55 558h1v1h-1zM55 598h1v1h-1zM55 639h1v1h-1zM55 680h1v1h-1zM55 720h1v1h-1zM55 761h1v1h-1zM55 802h1v1h-1zM55 842h1v1h-1zM55 883h1v1h-1zM55 923h1v1h-1zM68 395h1v1h-1zM68 436h1v1h-1zM68 477h1v1h-1zM68 517h1v1h-1zM68 558h1v1h-1zM68 598h1v1h-1zM68 639h1v1h-1zM68 680h1v1h-1zM68 720h1v1h-1zM68 761h1v1h-1zM68 802h1v1h-1zM68 842h1v1h-1zM68 883h1v1h-1zM68 923h1v1h-1zM81 395h1v1h-1zM81 436h1v1h-1zM81 477h1v1h-1zM81 517h1v1h-1zM81 558h1v1h-1zM81 598h1v1h-1zM81 639h1v1h-1zM81 680h1v1h-1zM81 720h1v1h-1zM81 761h1v1h-1zM81 802h1v1h-1zM81 842h1v1h-1zM81 883h1v1h-1zM81 923h1v1h-1zM94 395h1v1h-1zM94 436h1v1h-1zM94 477h1v1h-1zM94 517h1v1h-1zM94 558h1v1h-1zM94 598h1v1h-1zM94 639h1v1h-1zM94 680h1v1h-1zM94 720h1v1h-1zM94 761h1v1h-1zM94 802h1v1h-1zM94 842h1v1h-1zM94 883h1v1h-1zM94 923h1v1h-1zM107 395h1v1h-1zM107 416h1v1h-1zM107 436h1v1h-1zM107 456h1v1h-1zM107 477h1v1h-1zM107 497h1v1h-1zM107 517h1v1h-1zM107 538h1v1h-1zM107 558h1v1h-1zM107 578h1v1h-1zM107 598h1v1h-1zM107 619h1v1h-1zM107 639h1v1h-1zM107 659h1v1h-1zM107 680h1v1h-1zM107 700h1v1h-1zM107 720h1v1h-1zM107 741h1v1h-1zM107 761h1v1h-1zM107 781h1v1h-1zM107 802h1v1h-1zM107 822h1v1h-1zM107 842h1v1h-1zM107 862h1v1h-1zM107 883h1v1h-1zM107 903h1v1h-1zM107 923h1v1h-1zM107 944h1v1h-1zM120 395h1v1h-1zM120 436h1v1h-1zM120 477h1v1h-1zM120 517h1v1h-1zM120 558h1v1h-1zM120 598h1v1h-1zM120 639h1v1h-1zM120 680h1v1h-1zM120 720h1v1h-1zM120 761h1v1h-1zM120 802h1v1h-1zM120 842h1v1h-1zM120 883h1v1h-1zM120 923h1v1h-1zM133 395h1v1h-1zM133 436h1v1h-1zM133 477h1v1h-1zM133 517h1v1h-1zM133 558h1v1h-1zM133 598h1v1h-1zM133 639h1v1h-1zM133 680h1v1h-1zM133 720h1v1h-1zM133 761h1v1h-1zM133 802h1v1h-1zM133 842h1v1h-1zM133 883h1v1h-1zM133 923h1v1h-1zM146 395h1v1h-1zM146 436h1v1h-1zM146 477h1v1h-1zM146 517h1v1h-1zM146 558h1v1h-1zM146 598h1v1h-1zM146 639h1v1h-1zM146 680h1v1h-1zM146 720h1v1h-1zM146 761h1v1h-1zM146 802h1v1h-1zM146 842h1v1h-1zM146 883h1v1h-1zM146 923h1v1h-1zM159 395h1v1h-1zM159 436h1v1h-1zM159 477h1v1h-1zM159 517h1v1h-1zM159 558h1v1h-1zM159 598h1v1h-1zM159 639h1v1h-1zM159 680h1v1h-1zM159 720h1v1h-1zM159 761h1v1h-1zM159 802h1v1h-1zM159 842h1v1h-1zM159 883h1v1h-1zM159 923h1v1h-1zM172 395h1v1h-1zM172 416h1v1h-1zM172 436h1v1h-1zM172 456h1v1h-1zM172 477h1v1h-1zM172 497h1v1h-1zM172 517h1v1h-1zM172 538h1v1h-1zM172 558h1v1h-1zM172 578h1v1h-1zM172 598h1v1h-1zM172 619h1v1h-1zM172 639h1v1h-1zM172 659h1v1h-1zM172 680h1v1h-1zM172 700h1v1h-1zM172 720h1v1h-1zM172 741h1v1h-1zM172 761h1v1h-1zM172 781h1v1h-1zM172 802h1v1h-1zM172 822h1v1h-1zM172 842h1v1h-1zM172 862h1v1h-1zM172 883h1v1h-1zM172 903h1v1h-1zM172 923h1v1h-1zM172 944h1v1h-1zM185 395h1v1h-1zM185 436h1v1h-1zM185 477h1v1h-1zM185 517h1v1h-1zM185 558h1v1h-1zM185 598h1v1h-1zM185 639h1v1h-1zM185 680h1v1h-1zM185 720h1v1h-1zM185 761h1v1h-1zM185 802h1v1h-1zM185 842h1v1h-1zM185 883h1v1h-1zM185 923h1v1h-1zM198 395h1v1h-1zM198 436h1v1h-1zM198 477h1v1h-1zM198 517h1v1h-1zM198 558h1v1h-1zM198 598h1v1h-1zM198 639h1v1h-1zM198 680h1v1h-1zM198 720h1v1h-1zM198 761h1v1h-1zM198 802h1v1h-1zM198 842h1v1h-1zM198 883h1v1h-1zM198 923h1v1h-1zM211 395h1v1h-1zM211 436h1v1h-1zM211 477h1v1h-1zM211 517h1v1h-1zM211 558h1v1h-1zM211 598h1v1h-1zM211 639h1v1h-1zM211 680h1v1h-1zM211 720h1v1h-1zM211 761h1v1h-1zM211 802h1v1h-1zM211 842h1v1h-1zM211 883h1v1h-1zM211 923h1v1h-1zM224 395h1v1h-1zM224 436h1v1h-1zM224 477h1v1h-1zM224 517h1v1h-1zM224 558h1v1h-1zM224 598h1v1h-1zM224 639h1v1h-1zM224 680h1v1h-1zM224 720h1v1h-1zM224 761h1v1h-1zM224 802h1v1h-1zM224 842h1v1h-1zM224 883h1v1h-1zM224 923h1v1h-1zM237 395h1v1h-1zM237 416h1v1h-1zM237 436h1v1h-1zM237 456h1v1h-1zM237 477h1v1h-1zM237 497h1v1h-1zM237 517h1v1h-1zM237 538h1v1h-1zM237 558h1v1h-1zM237 578h1v1h-1zM237 598h1v1h-1zM237 619h1v1h-1zM237 639h1v1h-1zM237 659h1v1h-1zM237 680h1v1h-1zM237 700h1v1h-1zM237 720h1v1h-1zM237 741h1v1h-1zM237 761h1v1h-1zM237 781h1v1h-1zM237 802h1v1h-1zM237 822h1v1h-1zM237 842h1v1h-1zM237 862h1v1h-1zM237 883h1v1h-1zM237 903h1v1h-1zM237 923h1v1h-1zM237 944h1v1h-1zM250 395h1v1h-1zM250 436h1v1h-1zM250 477h1v1h-1zM250 517h1v1h-1zM250 558h1v1h-1zM250 598h1v1h-1zM250 639h1v1h-1zM250 680h1v1h-1zM250 720h1v1h-1zM250 761h1v1h-1zM250 802h1v1h-1zM250 842h1v1h-1zM250 883h1v1h-1zM250 923h1v1h-1zM263 395h1v1h-1zM263 436h1v1h-1zM263 477h1v1h-1zM263 517h1v1h-1zM263 558h1v1h-1zM263 598h1v1h-1zM263 639h1v1h-1zM263 680h1v1h-1zM263 720h1v1h-1zM263 761h1v1h-1zM263 802h1v1h-1zM263 842h1v1h-1zM263 883h1v1h-1zM263 923h1v1h-1zM276 395h1v1h-1zM276 436h1v1h-1zM276 477h1v1h-1zM276 517h1v1h-1zM276 558h1v1h-1zM276 598h1v1h-1zM276 639h1v1h-1zM276 680h1v1h-1zM276 720h1v1h-1zM276 761h1v1h-1zM276 802h1v1h-1zM276 842h1v1h-1zM276 883h1v1h-1zM276 923h1v1h-1zM289 395h1v1h-1zM289 436h1v1h-1zM289 477h1v1h-1zM289 517h1v1h-1zM289 558h1v1h-1zM289 598h1v1h-1zM289 639h1v1h-1zM289 680h1v1h-1zM289 720h1v1h-1zM289 761h1v1h-1zM289 802h1v1h-1zM289 842h1v1h-1zM289 883h1v1h-1zM289 923h1v1h-1zM302 395h1v1h-1zM302 416h1v1h-1zM302 436h1v1h-1zM302 456h1v1h-1zM302 477h1v1h-1zM302 497h1v1h-1zM302 517h1v1h-1zM302 538h1v1h-1zM302 558h1v1h-1zM302 578h1v1h-1zM302 598h1v1h-1zM302 619h1v1h-1zM302 639h1v1h-1zM302 659h1v1h-1zM302 680h1v1h-1zM302 700h1v1h-1zM302 720h1v1h-1zM302 741h1v1h-1zM302 761h1v1h-1zM302 781h1v1h-1zM302 802h1v1h-1zM302 822h1v1h-1zM302 842h1v1h-1zM302 862h1v1h-1zM302 883h1v1h-1zM302 903h1v1h-1zM302 923h1v1h-1zM302 944h1v1h-1zM315 395h1v1h-1zM315 436h1v1h-1zM315 477h1v1h-1zM315 517h1v1h-1zM315 558h1v1h-1zM315 598h1v1h-1zM315 639h1v1h-1zM315 680h1v1h-1zM315 720h1v1h-1zM315 761h1v1h-1zM315 802h1v1h-1zM315 842h1v1h-1zM315 883h1v1h-1zM315 923h1v1h-1zM328 395h1v1h-1zM328 436h1v1h-1zM328 477h1v1h-1zM328 517h1v1h-1zM328 558h1v1h-1zM328 598h1v1h-1zM328 639h1v1h-1zM328 680h1v1h-1zM328 720h1v1h-1zM328 761h1v1h-1zM328 802h1v1h-1zM328 842h1v1h-1zM328 883h1v1h-1zM328 923h1v1h-1zM341 395h1v1h-1zM341 436h1v1h-1zM341 477h1v1h-1zM341 517h1v1h-1zM341 558h1v1h-1zM341 598h1v1h-1zM341 639h1v1h-1zM341 680h1v1h-1zM341 720h1v1h-1zM341 761h1v1h-1zM341 802h1v1h-1zM341 842h1v1h-1zM341 883h1v1h-1zM341 923h1v1h-1zM354 395h1v1h-1zM354 436h1v1h-1zM354 477h1v1h-1zM354 517h1v1h-1zM354 558h1v1h-1zM354 598h1v1h-1zM354 639h1v1h-1zM354 680h1v1h-1zM354 720h1v1h-1zM354 761h1v1h-1zM354 802h1v1h-1zM354 842h1v1h-1zM354 883h1v1h-1zM354 923h1v1h-1zM367 395h1v1h-1zM367 416h1v1h-1zM367 436h1v1h-1zM367 456h1v1h-1zM367 477h1v1h-1zM367 497h1v1h-1zM367 517h1v1h-1zM367 538h1v1h-1zM367 558h1v1h-1zM367 578h1v1h-1zM367 598h1v1h-1zM367 619h1v1h-1zM367 639h1v1h-1zM367 659h1v1h-1zM367 680h1v1h-1zM367 700h1v1h-1zM367 720h1v1h-1zM367 741h1v1h-1zM367 761h1v1h-1zM367 781h1v1h-1zM367 802h1v1h-1zM367 822h1v1h-1zM367 842h1v1h-1zM367 862h1v1h-1zM367 883h1v1h-1zM367 903h1v1h-1zM367 923h1v1h-1zM367 944h1v1h-1zM380 395h1v1h-1zM380 436h1v1h-1zM380 477h1v1h-1zM380 517h1v1h-1zM380 558h1v1h-1zM380 598h1v1h-1zM380 639h1v1h-1zM380 680h1v1h-1zM380 720h1v1h-1zM380 761h1v1h-1zM380 802h1v1h-1zM380 842h1v1h-1zM380 883h1v1h-1zM380 923h1v1h-1zM393 395h1v1h-1zM393 436h1v1h-1zM393 477h1v1h-1zM393 517h1v1h-1zM393 558h1v1h-1zM393 598h1v1h-1zM393 639h1v1h-1zM393 680h1v1h-1zM393 720h1v1h-1zM393 761h1v1h-1zM393 802h1v1h-1zM393 842h1v1h-1zM393 883h1v1h-1zM393 923h1v1h-1zM406 395h1v1h-1zM406 436h1v1h-1zM406 477h1v1h-1zM406 517h1v1h-1zM406 558h1v1h-1zM406 598h1v1h-1zM406 639h1v1h-1zM406 680h1v1h-1zM406 720h1v1h-1zM406 761h1v1h-1zM406 802h1v1h-1zM406 842h1v1h-1zM406 883h1v1h-1zM406 923h1v1h-1zM419 395h1v1h-1zM419 416h1v1h-1zM419 436h1v1h-1zM419 456h1v1h-1zM419 477h1v1h-1zM419 497h1v1h-1zM419 517h1v1h-1zM419 538h1v1h-1zM419 558h1v1h-1zM419 578h1v1h-1zM419 598h1v1h-1zM419 619h1v1h-1zM419 639h1v1h-1zM419 659h1v1h-1zM419 680h1v1h-1zM419 700h1v1h-1zM419 720h1v1h-1zM419 741h1v1h-1zM419 761h1v1h-1zM419 781h1v1h-1zM419 802h1v1h-1zM419 822h1v1h-1zM419 842h1v1h-1zM419 862h1v1h-1zM419 883h1v1h-1zM419 903h1v1h-1zM419 923h1v1h-1zM419 944h1v1h-1zM432 395h1v1h-1zM432 436h1v1h-1zM432 477h1v1h-1zM432 517h1v1h-1zM432 558h1v1h-1zM432 598h1v1h-1zM432 639h1v1h-1zM432 680h1v1h-1zM432 720h1v1h-1zM432 761h1v1h-1zM432 802h1v1h-1zM432 842h1v1h-1zM432 883h1v1h-1zM432 923h1v1h-1zM445 395h1v1h-1zM445 436h1v1h-1zM445 477h1v1h-1zM445 517h1v1h-1zM445 558h1v1h-1zM445 598h1v1h-1zM445 639h1v1h-1zM445 680h1v1h-1zM445 720h1v1h-1zM445 761h1v1h-1zM445 802h1v1h-1zM445 842h1v1h-1zM445 883h1v1h-1zM445 923h1v1h-1zM458 395h1v1h-1zM458 436h1v1h-1zM458 477h1v1h-1zM458 517h1v1h-1zM458 558h1v1h-1zM458 598h1v1h-1zM458 639h1v1h-1zM458 680h1v1h-1zM458 720h1v1h-1zM458 761h1v1h-1zM458 802h1v1h-1zM458 842h1v1h-1zM458 883h1v1h-1zM458 923h1v1h-1zM471 395h1v1h-1zM471 436h1v1h-1zM471 477h1v1h-1zM471 517h1v1h-1zM471 558h1v1h-1zM471 598h1v1h-1zM471 639h1v1h-1zM471 680h1v1h-1zM471 720h1v1h-1zM471 761h1v1h-1zM471 802h1v1h-1zM471 842h1v1h-1zM471 883h1v1h-1zM471 923h1v1h-1zM484 395h1v1h-1zM484 416h1v1h-1zM484 436h1v1h-1zM484 456h1v1h-1zM484 477h1v1h-1zM484 497h1v1h-1zM484 517h1v1h-1zM484 538h1v1h-1zM484 558h1v1h-1zM484 578h1v1h-1zM484 598h1v1h-1zM484 619h1v1h-1zM484 639h1v1h-1zM484 659h1v1h-1zM484 680h1v1h-1zM484 700h1v1h-1zM484 720h1v1h-1zM484 741h1v1h-1zM484 761h1v1h-1zM484 781h1v1h-1zM484 802h1v1h-1zM484 822h1v1h-1zM484 842h1v1h-1zM484 862h1v1h-1zM484 883h1v1h-1zM484 903h1v1h-1zM484 923h1v1h-1zM484 944h1v1h-1zM497 395h1v1h-1zM497 436h1v1h-1zM497 477h1v1h-1zM497 517h1v1h-1zM497 558h1v1h-1zM497 598h1v1h-1zM497 639h1v1h-1zM497 680h1v1h-1zM497 720h1v1h-1zM497 761h1v1h-1zM497 802h1v1h-1zM497 842h1v1h-1zM497 883h1v1h-1zM497 923h1v1h-1zM510 395h1v1h-1zM510 436h1v1h-1zM510 477h1v1h-1zM510 517h1v1h-1zM510 558h1v1h-1zM510 598h1v1h-1zM510 639h1v1h-1zM510 680h1v1h-1zM510 720h1v1h-1zM510 761h1v1h-1zM510 802h1v1h-1zM510 842h1v1h-1zM510 883h1v1h-1zM510 923h1v1h-1zM523 395h1v1h-1zM523 436h1v1h-1zM523 477h1v1h-1zM523 517h1v1h-1zM523 558h1v1h-1zM523 598h1v1h-1zM523 639h1v1h-1zM523 680h1v1h-1zM523 720h1v1h-1zM523 761h1v1h-1zM523 802h1v1h-1zM523 842h1v1h-1zM523 883h1v1h-1zM523 923h1v1h-1zM536 395h1v1h-1zM536 436h1v1h-1zM536 477h1v1h-1zM536 517h1v1h-1zM536 558h1v1h-1zM536 598h1v1h-1zM536 639h1v1h-1zM536 680h1v1h-1zM536 720h1v1h-1zM536 761h1v1h-1zM536 802h1v1h-1zM536 842h1v1h-1zM536 883h1v1h-1zM536 923h1v1h-1zM549 395h1v1h-1zM549 416h1v1h-1zM549 436h1v1h-1zM549 456h1v1h-1zM549 477h1v1h-1zM549 497h1v1h-1zM549 517h1v1h-1zM549 538h1v1h-1zM549 558h1v1h-1zM549 578h1v1h-1zM549 598h1v1h-1zM549 619h1v1h-1zM549 639h1v1h-1zM549 659h1v1h-1zM549 680h1v1h-1zM549 700h1v1h-1zM549 720h1v1h-1zM549 741h1v1h-1zM549 761h1v1h-1zM549 781h1v1h-1zM549 802h1v1h-1zM549 822h1v1h-1zM549 842h1v1h-1zM549 862h1v1h-1zM549 883h1v1h-1zM549 903h1v1h-1zM549 923h1v1h-1zM549 944h1v1h-1zM562 395h1v1h-1zM562 436h1v1h-1zM562 477h1v1h-1zM562 517h1v1h-1zM562 558h1v1h-1zM562 598h1v1h-1zM562 639h1v1h-1zM562 680h1v1h-1zM562 720h1v1h-1zM562 761h1v1h-1zM562 802h1v1h-1zM562 842h1v1h-1zM562 883h1v1h-1zM562 923h1v1h-1zM575 395h1v1h-1zM575 436h1v1h-1zM575 477h1v1h-1zM575 517h1v1h-1zM575 558h1v1h-1zM575 598h1v1h-1zM575 639h1v1h-1zM575 680h1v1h-1zM575 720h1v1h-1zM575 761h1v1h-1zM575 802h1v1h-1zM575 842h1v1h-1zM575 883h1v1h-1zM575 923h1v1h-1zM588 395h1v1h-1zM588 436h1v1h-1zM588 477h1v1h-1zM588 517h1v1h-1zM588 558h1v1h-1zM588 598h1v1h-1zM588 639h1v1h-1zM588 680h1v1h-1zM588 720h1v1h-1zM588 761h1v1h-1zM588 802h1v1h-1zM588 842h1v1h-1zM588 883h1v1h-1zM588 923h1v1h-1zM601 395h1v1h-1zM601 436h1v1h-1zM601 477h1v1h-1zM601 517h1v1h-1zM601 558h1v1h-1zM601 598h1v1h-1zM601 639h1v1h-1zM601 680h1v1h-1zM601 720h1v1h-1zM601 761h1v1h-1zM601 802h1v1h-1zM601 842h1v1h-1zM601 883h1v1h-1zM601 923h1v1h-1zM614 395h1v1h-1zM614 416h1v1h-1zM614 436h1v1h-1zM614 456h1v1h-1zM614 477h1v1h-1zM614 497h1v1h-1zM614 517h1v1h-1zM614 538h1v1h-1zM614 558h1v1h-1zM614 578h1v1h-1zM614 598h1v1h-1zM614 619h1v1h-1zM614 639h1v1h-1zM614 659h1v1h-1zM614 680h1v1h-1zM614 700h1v1h-1zM614 720h1v1h-1zM614 741h1v1h-1zM614 761h1v1h-1zM614 781h1v1h-1zM614 802h1v1h-1zM614 822h1v1h-1zM614 842h1v1h-1zM614 862h1v1h-1zM614 883h1v1h-1zM614 903h1v1h-1zM614 923h1v1h-1zM614 944h1v1h-1zM627 395h1v1h-1zM627 436h1v1h-1zM627 477h1v1h-1zM627 517h1v1h-1zM627 558h1v1h-1zM627 598h1v1h-1zM627 639h1v1h-1zM627 680h1v1h-1zM627 720h1v1h-1zM627 761h1v1h-1zM627 802h1v1h-1zM627 842h1v1h-1zM627 883h1v1h-1zM627 923h1v1h-1zM640 395h1v1h-1zM640 436h1v1h-1zM640 477h1v1h-1zM640 517h1v1h-1zM640 558h1v1h-1zM640 598h1v1h-1zM640 639h1v1h-1zM640 680h1v1h-1zM640 720h1v1h-1zM640 761h1v1h-1zM640 802h1v1h-1zM640 842h1v1h-1zM640 883h1v1h-1zM640 923h1v1h-1zM653 395h1v1h-1zM653 436h1v1h-1zM653 477h1v1h-1zM653 517h1v1h-1zM653 558h1v1h-1zM653 598h1v1h-1zM653 639h1v1h-1zM653 680h1v1h-1zM653 720h1v1h-1zM653 761h1v1h-1zM653 802h1v1h-1zM653 842h1v1h-1zM653 883h1v1h-1zM653 923h1v1h-1zM666 395h1v1h-1zM666 436h1v1h-1zM666 477h1v1h-1zM666 517h1v1h-1zM666 558h1v1h-1zM666 598h1v1h-1zM666 639h1v1h-1zM666 680h1v1h-1zM666 720h1v1h-1zM666 761h1v1h-1zM666 802h1v1h-1zM666 842h1v1h-1zM666 883h1v1h-1zM666 923h1v1h-1zM679 395h1v1h-1zM679 416h1v1h-1zM679 436h1v1h-1zM679 456h1v1h-1zM679 477h1v1h-1zM679 497h1v1h-1zM679 517h1v1h-1zM679 538h1v1h-1zM679 558h1v1h-1zM679 578h1v1h-1zM679 598h1v1h-1zM679 619h1v1h-1zM679 639h1v1h-1zM679 659h1v1h-1zM679 680h1v1h-1zM679 700h1v1h-1zM679 720h1v1h-1zM679 741h1v1h-1zM679 761h1v1h-1zM679 781h1v1h-1zM679 802h1v1h-1zM679 822h1v1h-1zM679 842h1v1h-1zM679 862h1v1h-1zM679 883h1v1h-1zM679 903h1v1h-1zM679 923h1v1h-1zM679 944h1v1h-1zM692 395h1v1h-1zM692 436h1v1h-1zM692 477h1v1h-1zM692 517h1v1h-1zM692 558h1v1h-1zM692 598h1v1h-1zM692 639h1v1h-1zM692 680h1v1h-1zM692 720h1v1h-1zM692 761h1v1h-1zM692 802h1v1h-1zM692 842h1v1h-1zM692 883h1v1h-1zM692 923h1v1h-1zM705 395h1v1h-1zM705 436h1v1h-1zM705 477h1v1h-1zM705 517h1v1h-1zM705 558h1v1h-1zM705 598h1v1h-1zM705 639h1v1h-1zM705 680h1v1h-1zM705 720h1v1h-1zM705 761h1v1h-1zM705 802h1v1h-1zM705 842h1v1h-1zM705 883h1v1h-1zM705 923h1v1h-1zM718 395h1v1h-1zM718 436h1v1h-1zM718 477h1v1h-1zM718 517h1v1h-1zM718 558h1v1h-1zM718 598h1v1h-1zM718 639h1v1h-1zM718 680h1v1h-1zM718 720h1v1h-1zM718 761h1v1h-1zM718 802h1v1h-1zM718 842h1v1h-1zM718 883h1v1h-1zM718 923h1v1h-1zM731 395h1v1h-1zM731 436h1v1h-1zM731 477h1v1h-1zM731 517h1v1h-1zM731 558h1v1h-1zM731 598h1v1h-1zM731 639h1v1h-1zM731 680h1v1h-1zM731 720h1v1h-1zM731 761h1v1h-1zM731 802h1v1h-1zM731 842h1v1h-1zM731 883h1v1h-1zM731 923h1v1h-1zM744 395h1v1h-1zM744 416h1v1h-1zM744 436h1v1h-1zM744 456h1v1h-1zM744 477h1v1h-1zM744 497h1v1h-1zM744 517h1v1h-1zM744 538h1v1h-1zM744 558h1v1h-1zM744 578h1v1h-1zM744 598h1v1h-1zM744 619h1v1h-1zM744 639h1v1h-1zM744 659h1v1h-1zM744 680h1v1h-1zM744 700h1v1h-1zM744 720h1v1h-1zM744 741h1v1h-1zM744 761h1v1h-1zM744 781h1v1h-1zM744 802h1v1h-1zM744 822h1v1h-1zM744 842h1v1h-1zM744 862h1v1h-1zM744 883h1v1h-1zM744 903h1v1h-1zM744 923h1v1h-1zM744 944h1v1h-1zM757 395h1v1h-1zM757 436h1v1h-1zM757 477h1v1h-1zM757 517h1v1h-1zM757 558h1v1h-1zM757 598h1v1h-1zM757 639h1v1h-1zM757 680h1v1h-1zM757 720h1v1h-1zM757 761h1v1h-1zM757 802h1v1h-1zM757 842h1v1h-1zM757 883h1v1h-1zM757 923h1v1h-1zM770 395h1v1h-1zM770 436h1v1h-1zM770 477h1v1h-1zM770 517h1v1h-1zM770 558h1v1h-1zM770 598h1v1h-1zM770 639h1v1h-1zM770 680h1v1h-1zM770 720h1v1h-1zM770 761h1v1h-1zM770 802h1v1h-1zM770 842h1v1h-1zM770 883h1v1h-1zM770 923h1v1h-1zM783 395h1v1h-1zM783 436h1v1h-1zM783 477h1v1h-1zM783 517h1v1h-1zM783 558h1v1h-1zM783 598h1v1h-1zM783 639h1v1h-1zM783 680h1v1h-1zM783 720h1v1h-1zM783 761h1v1h-1zM783 802h1v1h-1zM783 842h1v1h-1zM783 883h1v1h-1zM783 923h1v1h-1zM796 395h1v1h-1zM796 436h1v1h-1zM796 477h1v1h-1zM796 517h1v1h-1zM796 558h1v1h-1zM796 598h1v1h-1zM796 639h1v1h-1zM796 680h1v1h-1zM796 720h1v1h-1zM796 761h1v1h-1zM796 802h1v1h-1zM796 842h1v1h-1zM796 883h1v1h-1zM796 923h1v1h-1zM809 395h1v1h-1zM809 436h1v1h-1zM809 477h1v1h-1zM809 517h1v1h-1zM809 558h1v1h-1zM809 598h1v1h-1zM809 639h1v1h-1zM809 680h1v1h-1zM809 720h1v1h-1zM809 761h1v1h-1zM809 802h1v1h-1zM809 842h1v1h-1zM809 883h1v1h-1zM809 923h1v1h-1zM822 395h1v1h-1zM822 436h1v1h-1zM822 477h1v1h-1zM822 517h1v1h-1zM822 558h1v1h-1zM822 598h1v1h-1zM822 639h1v1h-1zM822 680h1v1h-1zM822 720h1v1h-1zM822 761h1v1h-1zM822 802h1v1h-1zM822 842h1v1h-1zM822 883h1v1h-1zM822 923h1v1h-1zM835 395h1v1h-1zM835 436h1v1h-1zM835 477h1v1h-1zM835 517h1v1h-1zM835 558h1v1h-1zM835 598h1v1h-1zM835 639h1v1h-1zM835 680h1v1h-1zM835 720h1v1h-1zM835 761h1v1h-1zM835 802h1v1h-1zM835 842h1v1h-1zM835 883h1v1h-1zM835 923h1v1h-1zM848 395h1v1h-1zM848 436h1v1h-1zM848 477h1v1h-1zM848 517h1v1h-1zM848 558h1v1h-1zM848 598h1v1h-1zM848 639h1v1h-1zM848 680h1v1h-1zM848 720h1v1h-1zM848 761h1v1h-1zM848 802h1v1h-1zM848 842h1v1h-1zM848 883h1v1h-1zM848 923h1v1h-1zM861 395h1v1h-1zM861 416h1v1h-1zM861 436h1v1h-1zM861 456h1v1h-1zM861 477h1v1h-1zM861 497h1v1h-1zM861 517h1v1h-1zM861 538h1v1h-1zM861 558h1v1h-1zM861 578h1v1h-1zM861 598h1v1h-1zM861 619h1v1h-1zM861 639h1v1h-1zM861 659h1v1h-1zM861 680h1v1h-1zM861 700h1v1h-1zM861 720h1v1h-1zM861 741h1v1h-1zM861 761h1v1h-1zM861 781h1v1h-1zM861 802h1v1h-1zM861 822h1v1h-1zM861 842h1v1h-1zM861 862h1v1h-1zM861 883h1v1h-1zM861 903h1v1h-1zM861 923h1v1h-1zM861 944h1v1h-1zM874 395h1v1h-1zM874 436h1v1h-1zM874 477h1v1h-1zM874 517h1v1h-1zM874 558h1v1h-1zM874 598h1v1h-1zM874 639h1v1h-1zM874 680h1v1h-1zM874 720h1v1h-1zM874 761h1v1h-1zM874 802h1v1h-1zM874 842h1v1h-1zM874 883h1v1h-1zM874 923h1v1h-1zM887 395h1v1h-1zM887 436h1v1h-1zM887 477h1v1h-1zM887 517h1v1h-1zM887 558h1v1h-1zM887 598h1v1h-1zM887 639h1v1h-1zM887 680h1v1h-1zM887 720h1v1h-1zM887 761h1v1h-1zM887 802h1v1h-1zM887 842h1v1h-1zM887 883h1v1h-1zM887 923h1v1h-1zM900 395h1v1h-1zM900 436h1v1h-1zM900 477h1v1h-1zM900 517h1v1h-1zM900 558h1v1h-1zM900 598h1v1h-1zM900 639h1v1h-1zM900 680h1v1h-1zM900 720h1v1h-1zM900 761h1v1h-1zM900 802h1v1h-1zM900 842h1v1h-1zM900 883h1v1h-1zM900 923h1v1h-1zM913 395h1v1h-1zM913 436h1v1h-1zM913 477h1v1h-1zM913 517h1v1h-1zM913 558h1v1h-1zM913 598h1v1h-1zM913 639h1v1h-1zM913 680h1v1h-1zM913 720h1v1h-1zM913 761h1v1h-1zM913 802h1v1h-1zM913 842h1v1h-1zM913 883h1v1h-1zM913 923h1v1h-1zM926 395h1v1h-1zM926 416h1v1h-1zM926 436h1v1h-1zM926 456h1v1h-1zM926 477h1v1h-1zM926 497h1v1h-1zM926 517h1v1h-1zM926 538h1v1h-1zM926 558h1v1h-1zM926 578h1v1h-1zM926 598h1v1h-1zM926 619h1v1h-1zM926 639h1v1h-1zM926 659h1v1h-1zM926 680h1v1h-1zM926 700h1v1h-1zM926 720h1v1h-1zM926 741h1v1h-1zM926 761h1v1h-1zM926 781h1v1h-1zM926 802h1v1h-1zM926 822h1v1h-1zM926 842h1v1h-1zM926 862h1v1h-1zM926 883h1v1h-1zM926 903h1v1h-1zM926 923h1v1h-1zM926 944h1v1h-1zM939 395h1v1h-1zM939 436h1v1h-1zM939 477h1v1h-1zM939 517h1v1h-1zM939 558h1v1h-1zM939 598h1v1h-1zM939 639h1v1h-1zM939 680h1v1h-1zM939 720h1v1h-1zM939 761h1v1h-1zM939 802h1v1h-1zM939 842h1v1h-1zM939 883h1v1h-1zM939 923h1v1h-1zM952 395h1v1h-1zM952 436h1v1h-1zM952 477h1v1h-1zM952 517h1v1h-1zM952 558h1v1h-1zM952 598h1v1h-1zM952 639h1v1h-1zM952 680h1v1h-1zM952 720h1v1h-1zM952 761h1v1h-1zM952 802h1v1h-1zM952 842h1v1h-1zM952 883h1v1h-1zM952 923h1v1h-1zM965 395h1v1h-1zM965 436h1v1h-1zM965 477h1v1h-1zM965 517h1v1h-1zM965 558h1v1h-1zM965 598h1v1h-1zM965 639h1v1h-1zM965 680h1v1h-1zM965 720h1v1h-1zM965 761h1v1h-1zM965 802h1v1h-1zM965 842h1v1h-1zM965 883h1v1h-1zM965 923h1v1h-1zM978 395h1v1h-1zM978 436h1v1h-1zM978 477h1v1h-1zM978 517h1v1h-1zM978 558h1v1h-1zM978 598h1v1h-1zM978 639h1v1h-1zM978 680h1v1h-1zM978 720h1v1h-1zM978 761h1v1h-1zM978 802h1v1h-1zM978 842h1v1h-1zM978 883h1v1h-1zM978 923h1v1h-1zM991 395h1v1h-1zM991 416h1v1h-1zM991 436h1v1h-1zM991 456h1v1h-1zM991 477h1v1h-1zM991 497h1v1h-1zM991 517h1v1h-1zM991 538h1v1h-1zM991 558h1v1h-1zM991 578h1v1h-1zM991 598h1v1h-1zM991 619h1v1h-1zM991 639h1v1h-1zM991 659h1v1h-1zM991 680h1v1h-1zM991 700h1v1h-1zM991 720h1v1h-1zM991 741h1v1h-1zM991 761h1v1h-1zM991 781h1v1h-1zM991 802h1v1h-1zM991 822h1v1h-1zM991 842h1v1h-1zM991 862h1v1h-1zM991 883h1v1h-1zM991 903h1v1h-1zM991 923h1v1h-1zM991 944h1v1h-1zM1004 395h1v1h-1zM1004 436h1v1h-1zM1004 477h1v1h-1zM1004 517h1v1h-1zM1004 558h1v1h-1zM1004 598h1v1h-1zM1004 639h1v1h-1zM1004 680h1v1h-1zM1004 720h1v1h-1zM1004 761h1v1h-1zM1004 802h1v1h-1zM1004 842h1v1h-1zM1004 883h1v1h-1zM1004 923h1v1h-1zM1017 395h1v1h-1zM1017 436h1v1h-1zM1017 477h1v1h-1zM1017 517h1v1h-1zM1017 558h1v1h-1zM1017 598h1v1h-1zM1017 639h1v1h-1zM1017 680h1v1h-1zM1017 720h1v1h-1zM1017 761h1v1h-1zM1017 802h1v1h-1zM1017 842h1v1h-1zM1017 883h1v1h-1zM1017 923h1v1h-1zM1030 395h1v1h-1zM1030 436h1v1h-1zM1030 477h1v1h-1zM1030 517h1v1h-1zM1030 558h1v1h-1zM1030 598h1v1h-1zM1030 639h1v1h-1zM1030 680h1v1h-1zM1030 720h1v1h-1zM1030 761h1v1h-1zM1030 802h1v1h-1zM1030 842h1v1h-1zM1030 883h1v1h-1zM1030 923h1v1h-1zM1043 395h1v1h-1zM1043 436h1v1h-1zM1043 477h1v1h-1zM1043 517h1v1h-1zM1043 558h1v1h-1zM1043 598h1v1h-1zM1043 639h1v1h-1zM1043 680h1v1h-1zM1043 720h1v1h-1zM1043 761h1v1h-1zM1043 802h1v1h-1zM1043 842h1v1h-1zM1043 883h1v1h-1zM1043 923h1v1h-1zM1056 395h1v1h-1zM1056 416h1v1h-1zM1056 436h1v1h-1zM1056 456h1v1h-1zM1056 477h1v1h-1zM1056 497h1v1h-1zM1056 517h1v1h-1zM1056 538h1v1h-1zM1056 558h1v1h-1zM1056 578h1v1h-1zM1056 598h1v1h-1zM1056 619h1v1h-1zM1056 639h1v1h-1zM1056 659h1v1h-1zM1056 680h1v1h-1zM1056 700h1v1h-1zM1056 720h1v1h-1zM1056 741h1v1h-1zM1056 761h1v1h-1zM1056 781h1v1h-1zM1056 802h1v1h-1zM1056 822h1v1h-1zM1056 842h1v1h-1zM1056 862h1v1h-1zM1056 883h1v1h-1zM1056 903h1v1h-1zM1056 923h1v1h-1zM1056 944h1v1h-1zM1069 395h1v1h-1zM1069 436h1v1h-1zM1069 477h1v1h-1zM1069 517h1v1h-1zM1069 558h1v1h-1zM1069 598h1v1h-1zM1069 639h1v1h-1zM1069 680h1v1h-1zM1069 720h1v1h-1zM1069 761h1v1h-1zM1069 802h1v1h-1zM1069 842h1v1h-1zM1069 883h1v1h-1zM1069 923h1v1h-1zM1082 395h1v1h-1zM1082 436h1v1h-1zM1082 477h1v1h-1zM1082 517h1v1h-1zM1082 558h1v1h-1zM1082 598h1v1h-1zM1082 639h1v1h-1zM1082 680h1v1h-1zM1082 720h1v1h-1zM1082 761h1v1h-1zM1082 802h1v1h-1zM1082 842h1v1h-1zM1082 883h1v1h-1zM1082 923h1v1h-1zM1095 395h1v1h-1zM1095 436h1v1h-1zM1095 477h1v1h-1zM1095 517h1v1h-1zM1095 558h1v1h-1zM1095 598h1v1h-1zM1095 639h1v1h-1zM1095 680h1v1h-1zM1095 720h1v1h-1zM1095 761h1v1h-1zM1095 802h1v1h-1zM1095 842h1v1h-1zM1095 883h1v1h-1zM1095 923h1v1h-1zM1108 395h1v1h-1zM1108 436h1v1h-1zM1108 477h1v1h-1zM1108 517h1v1h-1zM1108 558h1v1h-1zM1108 598h1v1h-1zM1108 639h1v1h-1zM1108 680h1v1h-1zM1108 720h1v1h-1zM1108 761h1v1h-1zM1108 802h1v1h-1zM1108 842h1v1h-1zM1108 883h1v1h-1zM1108 923h1v1h-1zM1121 395h1v1h-1zM1121 416h1v1h-1zM1121 436h1v1h-1zM1121 456h1v1h-1zM1121 477h1v1h-1zM1121 497h1v1h-1zM1121 517h1v1h-1zM1121 538h1v1h-1zM1121 558h1v1h-1zM1121 578h1v1h-1zM1121 598h1v1h-1zM1121 619h1v1h-1zM1121 639h1v1h-1zM1121 659h1v1h-1zM1121 680h1v1h-1zM1121 700h1v1h-1zM1121 720h1v1h-1zM1121 741h1v1h-1zM1121 761h1v1h-1zM1121 781h1v1h-1zM1121 802h1v1h-1zM1121 822h1v1h-1zM1121 842h1v1h-1zM1121 862h1v1h-1zM1121 883h1v1h-1zM1121 903h1v1h-1zM1121 923h1v1h-1zM1121 944h1v1h-1zM1134 395h1v1h-1zM1134 436h1v1h-1zM1134 477h1v1h-1zM1134 517h1v1h-1zM1134 558h1v1h-1zM1134 598h1v1h-1zM1134 639h1v1h-1zM1134 680h1v1h-1zM1134 720h1v1h-1zM1134 761h1v1h-1zM1134 802h1v1h-1zM1134 842h1v1h-1zM1134 883h1v1h-1zM1134 923h1v1h-1zM1147 395h1v1h-1zM1147 436h1v1h-1zM1147 477h1v1h-1zM1147 517h1v1h-1zM1147 558h1v1h-1zM1147 598h1v1h-1zM1147 639h1v1h-1zM1147 680h1v1h-1zM1147 720h1v1h-1zM1147 761h1v1h-1zM1147 802h1v1h-1zM1147 842h1v1h-1zM1147 883h1v1h-1zM1147 923h1v1h-1zM1160 395h1v1h-1zM1160 436h1v1h-1zM1160 477h1v1h-1zM1160 517h1v1h-1zM1160 558h1v1h-1zM1160 598h1v1h-1zM1160 639h1v1h-1zM1160 680h1v1h-1zM1160 720h1v1h-1zM1160 761h1v1h-1zM1160 802h1v1h-1zM1160 842h1v1h-1zM1160 883h1v1h-1zM1160 923h1v1h-1zM1173 395h1v1h-1zM1173 436h1v1h-1zM1173 477h1v1h-1zM1173 517h1v1h-1zM1173 558h1v1h-1zM1173 598h1v1h-1zM1173 639h1v1h-1zM1173 680h1v1h-1zM1173 720h1v1h-1zM1173 761h1v1h-1zM1173 802h1v1h-1zM1173 842h1v1h-1zM1173 883h1v1h-1zM1173 923h1v1h-1zM1186 395h1v1h-1zM1186 416h1v1h-1zM1186 436h1v1h-1zM1186 456h1v1h-1zM1186 477h1v1h-1zM1186 497h1v1h-1zM1186 517h1v1h-1zM1186 538h1v1h-1zM1186 558h1v1h-1zM1186 578h1v1h-1zM1186 598h1v1h-1zM1186 619h1v1h-1zM1186 639h1v1h-1zM1186 659h1v1h-1zM1186 680h1v1h-1zM1186 700h1v1h-1zM1186 720h1v1h-1zM1186 741h1v1h-1zM1186 761h1v1h-1zM1186 781h1v1h-1zM1186 802h1v1h-1zM1186 822h1v1h-1zM1186 842h1v1h-1zM1186 862h1v1h-1zM1186 883h1v1h-1zM1186 903h1v1h-1zM1186 923h1v1h-1zM1186 944h1v1h-1z" fill="#000"/>
<path d="M250 388h1v1h-1zM250 392h1v1h-1zM250 396h1v1h-1zM250 400h1v1h-1zM250 404h1v1h-1zM250 408h1v1h-1zM250 412h1v1h-1zM250 416h1v1h-1zM250 420h1v1h-1zM250 424h1v1h-1zM250 428h1v1h-1zM250 432h1v1h-1zM250 436h1v1h-1zM250 440h1v1h-1zM250 444h1v1h-1zM250 448h1v1h-1zM250 452h1v1h-1zM250 456h1v1h-1zM250 460h1v1h-1zM250 464h1v1h-1zM250 468h1v1h-1zM250 472h1v1h-1zM250 476h1v1h-1zM250 480h1v1h-1zM250 484h1v1h-1zM250 488h1v1h-1zM250 492h1v1h-1zM250 496h1v1h-1zM250 500h1v1h-1zM250 504h1v1h-1zM250 508h1v1h-1zM250 512h1v1h-1zM250 516h1v1h-1zM250 520h1v1h-1zM250 524h1v1h-1zM250 528h1v1h-1zM250 532h1v1h-1zM250 536h1v1h-1zM250 540h1v1h-1zM250 544h1v1h-1zM250 548h1v1h-1zM250 552h1v1h-1zM250 556h1v1h-1zM250 560h1v1h-1zM250 564h1v1h-1zM250 568h1v1h-1zM250 572h1v1h-1zM250 576h1v1h-1zM250 580h1v1h-1zM250 584h1v1h-1zM250 588h1v1h-1zM250 592h1v1h-1zM250 596h1v1h-1zM250 600h1v1h-1zM250 604h1v1h-1zM250 608h1v1h-1zM250 612h1v1h-1zM250 616h1v1h-1zM250 620h1v1h-1zM250 624h1v1h-1zM250 628h1v1h-1zM250 632h1v1h-1zM250 636h1v1h-1zM250 640h1v1h-1zM250 644h1v1h-1zM250 648h1v1h-1zM250 652h1v1h-1zM250 656h1v1h-1zM250 660h1v1h-1zM250 664h1v1h-1zM250 668h1v1h-1zM250 672h1v1h-1zM250 676h1v1h-1zM250 680h1v1h-1zM250 684h1v1h-1zM250 688h1v1h-1zM250 692h1v1h-1zM250 696h1v1h-1zM250 700h1v1h-1zM250 704h1v1h-1zM250 708h1v1h-1zM250 712h1v1h-1zM250 716h1v1h-1zM250 720h1v1h-1zM250 724h1v1h-1zM250 728h1v1h-1zM250 732h1v1h-1zM250 736h1v1h-1zM250 740h1v1h-1zM250 744h1v1h-1zM250 748h1v1h-1zM250 752h1v1h-1zM250 756h1v1h-1zM250 760h1v1h-1zM250 764h1v1h-1zM250 768h1v1h-1zM250 772h1v1h-1zM250 776h1v1h-1zM250 780h1v1h-1zM250 784h1v1h-1zM250 788h1v1h-1zM250 792h1v1h-1zM250 796h1v1h-1zM250 800h1v1h-1zM250 804h1v1h-1zM250 808h1v1h-1zM250 812h1v1h-1zM250 816h1v1h-1zM250 820h1v1h-1zM250 824h1v1h-1zM250 828h1v1h-1zM250 832h1v1h-1zM250 836h1v1h-1zM250 840h1v1h-1zM250 844h1v1h-1zM250 848h1v1h-1zM250 852h1v1h-1zM250 856h1v1h-1zM250 860h1v1h-1zM250 864h1v1h-1zM250 868h1v1h-1zM250 872h1v1h-1zM250 876h1v1h-1zM250 880h1v1h-1zM250 884h1v1h-1zM250 888h1v1h-1zM250 892h1v1h-1zM250 896h1v1h-1zM250 900h1v1h-1zM250 904h1v1h-1zM250 908h1v1h-1zM250 912h1v1h-1zM250 916h1v1h-1zM250 920h1v1h-1zM250 924h1v1h-1zM250 928h1v1h-1zM250 932h1v1h-1zM250 936h1v1h-1zM250 940h1v1h-1zM250 944h1v1h-1zM523 388h1v1h-1zM523 392h1v1h-1zM523 396h1v1h-1zM523 400h1v1h-1zM523 404h1v1h-1zM523 408h1v1h-1zM523 412h1v1h-1zM523 416h1v1h-1zM523 420h1v1h-1zM523 424h1v1h-1zM523 428h1v1h-1zM523 432h1v1h-1zM523 436h1v1h-1zM523 440h1v1h-1zM523 444h1v1h-1zM523 448h1v1h-1zM523 452h1v1h-1zM523 456h1v1h-1zM523 460h1v1h-1zM523 464h1v1h-1zM523 468h1v1h-1zM523 472h1v1h-1zM523 476h1v1h-1zM523 480h1v1h-1zM523 484h1v1h-1zM523 488h1v1h-1zM523 492h1v1h-1zM523 496h1v1h-1zM523 500h1v1h-1zM523 504h1v1h-1zM523 508h1v1h-1zM523 512h1v1h-1zM523 516h1v1h-1zM523 520h1v1h-1zM523 524h1v1h-1zM523 528h1v1h-1zM523 532h1v1h-1zM523 536h1v1h-1zM523 540h1v1h-1zM523 544h1v1h-1zM523 548h1v1h-1zM523 552h1v1h-1zM523 556h1v1h-1zM523 560h1v1h-1zM523 564h1v1h-1zM523 568h1v1h-1zM523 572h1v1h-1zM523 576h1v1h-1zM523 580h1v1h-1zM523 584h1v1h-1zM523 588h1v1h-1zM523 592h1v1h-1zM523 596h1v1h-1zM523 600h1v1h-1zM523 604h1v1h-1zM523 608h1v1h-1zM523 612h1v1h-1zM523 616h1v1h-1zM523 620h1v1h-1zM523 624h1v1h-1zM523 628h1v1h-1zM523 632h1v1h-1zM523 636h1v1h-1zM523 640h1v1h-1zM523 644h1v1h-1zM523 648h1v1h-1zM523 652h1v1h-1zM523 656h1v1h-1zM523 660h1v1h-1zM523 664h1v1h-1zM523 668h1v1h-1zM523 672h1v1h-1zM523 676h1v1h-1zM523 680h1v1h-1zM523 684h1v1h-1zM523 688h1v1h-1zM523 692h1v1h-1zM523 696h1v1h-1zM523 700h1v1h-1zM523 704h1v1h-1zM523 708h1v1h-1zM523 712h1v1h-1zM523 716h1v1h-1zM523 720h1v1h-1zM523 724h1v1h-1zM523 728h1v1h-1zM523 732h1v1h-1zM523 736h1v1h-1zM523 740h1v1h-1zM523 744h1v1h-1zM523 748h1v1h-1zM523 752h1v1h-1zM523 756h1v1h-1zM523 760h1v1h-1zM523 764h1v1h-1zM523 768h1v1h-1zM523 772h1v1h-1zM523 776h1v1h-1zM523 780h1v1h-1zM523 784h1v1h-1zM523 788h1v1h-1zM523 792h1v1h-1zM523 796h1v1h-1zM523 800h1v1h-1zM523 804h1v1h-1zM523 808h1v1h-1zM523 812h1v1h-1zM523 816h1v1h-1zM523 820h1v1h-1zM523 824h1v1h-1zM523 828h1v1h-1zM523 832h1v1h-1zM523 836h1v1h-1zM523 840h1v1h-1zM523 844h1v1h-1zM523 848h1v1h-1zM523 852h1v1h-1zM523 856h1v1h-1zM523 860h1v1h-1zM523 864h1v1h-1zM523 868h1v1h-1zM523 872h1v1h-1zM523 876h1v1h-1zM523 880h1v1h-1zM523 884h1v1h-1zM523 888h1v1h-1zM523 892h1v1h-1zM523 896h1v1h-1zM523 900h1v1h-1zM523 904h1v1h-1zM523 908h1v1h-1zM523 912h1v1h-1zM523 916h1v1h-1zM523 920h1v1h-1zM523 924h1v1h-1zM523 928h1v1h-1zM523 932h1v1h-1zM523 936h1v1h-1zM523 940h1v1h-1zM523 944h1v1h-1zM796 388h1v1h-1zM796 392h1v1h-1zM796 396h1v1h-1zM796 400h1v1h-1zM796 404h1v1h-1zM796 408h1v1h-1zM796 412h1v1h-1zM796 416h1v1h-1zM796 420h1v1h-1zM796 424h1v1h-1zM796 428h1v1h-1zM796 432h1v1h-1zM796 436h1v1h-1zM796 440h1v1h-1zM796 444h1v1h-1zM796 448h1v1h-1zM796 452h1v1h-1zM796 456h1v1h-1zM796 460h1v1h-1zM796 464h1v1h-1zM796 468h1v1h-1zM796 472h1v1h-1zM796 476h1v1h-1zM796 480h1v1h-1zM796 484h1v1h-1zM796 488h1v1h-1zM796 492h1v1h-1zM796 496h1v1h-1zM796 500h1v1h-1zM796 504h1v1h-1zM796 508h1v1h-1zM796 512h1v1h-1zM796 516h1v1h-1zM796 520h1v1h-1zM796 524h1v1h-1zM796 528h1v1h-1zM796 532h1v1h-1zM796 536h1v1h-1zM796 540h1v1h-1zM796 544h1v1h-1zM796 548h1v1h-1zM796 552h1v1h-1zM796 556h1v1h-1zM796 560h1v1h-1zM796 564h1v1h-1zM796 568h1v1h-1zM796 572h1v1h-1zM796 576h1v1h-1zM796 580h1v1h-1zM796 584h1v1h-1zM796 588h1v1h-1zM796 592h1v1h-1zM796 596h1v1h-1zM796 600h1v1h-1zM796 604h1v1h-1zM796 608h1v1h-1zM796 612h1v1h-1zM796 616h1v1h-1zM796 620h1v1h-1zM796 624h1v1h-1zM796 628h1v1h-1zM796 632h1v1h-1zM796 636h1v1h-1zM796 640h1v1h-1zM796 644h1v1h-1zM796 648h1v1h-1zM796 652h1v1h-1zM796 656h1v1h-1zM796 660h1v1h-1zM796 664h1v1h-1zM796 668h1v1h-1zM796 672h1v1h-1zM796 676h1v1h-1zM796 680h1v1h-1zM796 684h1v1h-1zM796 688h1v1h-1zM796 692h1v1h-1zM796 696h1v1h-1zM796 700h1v1h-1zM796 704h1v1h-1zM796 708h1v1h-1zM796 712h1v1h-1zM796 716h1v1h-1zM796 720h1v1h-1zM796 724h1v1h-1zM796 728h1v1h-1zM796 732h1v1h-1zM796 736h1v1h-1zM796 740h1v1h-1zM796 744h1v1h-1zM796 748h1v1h-1zM796 752h1v1h-1zM796 756h1v1h-1zM796 760h1v1h-1zM796 764h1v1h-1zM796 768h1v1h-1zM796 772h1v1h-1zM796 776h1v1h-1zM796 780h1v1h-1zM796 784h1v1h-1zM796 788h1v1h-1zM796 792h1v1h-1zM796 796h1v1h-1zM796 800h1v1h-1zM796 804h1v1h-1zM796 808h1v1h-1zM796 812h1v1h-1zM796 816h1v1h-1zM796 820h1v1h-1zM796 824h1v1h-1zM796 828h1v1h-1zM796 832h1v1h-1zM796 836h1v1h-1zM796 840h1v1h-1zM796 844h1v1h-1zM796 848h1v1h-1zM796 852h1v1h-1zM796 856h1v1h-1zM796 860h1v1h-1zM796 864h1v1h-1zM796 868h1v1h-1zM796 872h1v1h-1zM796 876h1v1h-1zM796 880h1v1h-1zM796 884h1v1h-1zM796 888h1v1h-1zM796 892h1v1h-1zM796 896h1v1h-1zM796 900h1v1h-1zM796 904h1v1h-1zM796 908h1v1h-1zM796 912h1v1h-1zM796 916h1v1h-1zM796 920h1v1h-1zM796 924h1v1h-1zM796 928h1v1h-1zM796 932h1v1h-1zM796 936h1v1h-1zM796 940h1v1h-1zM796 944h1v1h-1zM1069 388h1v1h-1zM1069 392h1v1h-1zM1069 396h1v1h-1zM1069 400h1v1h-1zM1069 404h1v1h-1zM1069 408h1v1h-1zM1069 412h1v1h-1zM1069 416h1v1h-1zM1069 420h1v1h-1zM1069 424h1v1h-1zM1069 428h1v1h-1zM1069 432h1v1h-1zM1069 436h1v1h-1zM1069 440h1v1h-1zM1069 444h1v1h-1zM1069 448h1v1h-1zM1069 452h1v1h-1zM1069 456h1v1h-1zM1069 460h1v1h-1zM1069 464h1v1h-1zM1069 468h1v1h-1zM1069 472h1v1h-1zM1069 476h1v1h-1zM1069 480h1v1h-1zM1069 484h1v1h-1zM1069 488h1v1h-1zM1069 492h1v1h-1zM1069 496h1v1h-1zM1069 500h1v1h-1zM1069 504h1v1h-1zM1069 508h1v1h-1zM1069 512h1v1h-1zM1069 516h1v1h-1zM1069 520h1v1h-1zM1069 524h1v1h-1zM1069 528h1v1h-1zM1069 532h1v1h-1zM1069 536h1v1h-1zM1069 540h1v1h-1zM1069 544h1v1h-1zM1069 548h1v1h-1zM1069 552h1v1h-1zM1069 556h1v1h-1zM1069 560h1v1h-1zM1069 564h1v1h-1zM1069 568h1v1h-1zM1069 572h1v1h-1zM1069 576h1v1h-1zM1069 580h1v1h-1zM1069 584h1v1h-1zM1069 588h1v1h-1zM1069 592h1v1h-1zM1069 596h1v1h-1zM1069 600h1v1h-1zM1069 604h1v1h-1zM1069 608h1v1h-1zM1069 612h1v1h-1zM1069 616h1v1h-1zM1069 620h1v1h-1zM1069 624h1v1h-1zM1069 628h1v1h-1zM1069 632h1v1h-1zM1069 636h1v1h-1zM1069 640h1v1h-1zM1069 644h1v1h-1zM1069 648h1v1h-1zM1069 652h1v1h-1zM1069 656h1v1h-1zM1069 660h1v1h-1zM1069 664h1v1h-1zM1069 668h1v1h-1zM1069 672h1v1h-1zM1069 676h1v1h-1zM1069 680h1v1h-1zM1069 684h1v1h-1zM1069 688h1v1h-1zM1069 692h1v1h-1zM1069 696h1v1h-1zM1069 700h1v1h-1zM1069 704h1v1h-1zM1069 708h1v1h-1zM1069 712h1v1h-1zM1069 716h1v1h-1zM1069 720h1v1h-1zM1069 724h1v1h-1zM1069 728h1v1h-1zM1069 732h1v1h-1zM1069 736h1v1h-1zM1069 740h1v1h-1zM1069 744h1v1h-1zM1069 748h1v1h-1zM1069 752h1v1h-1zM1069 756h1v1h-1zM1069 760h1v1h-1zM1069 764h1v1h-1zM1069 768h1v1h-1zM1069 772h1v1h-1zM1069 776h1v1h-1zM1069 780h1v1h-1zM1069 784h1v1h-1zM1069 788h1v1h-1zM1069 792h1v1h-1zM1069 796h1v1h-1zM1069 800h1v1h-1zM1069 804h1v1h-1zM1069 808h1v1h-1zM1069 812h1v1h-1zM1069 816h1v1h-1zM1069 820h1v1h-1zM1069 824h1v1h-1zM1069 828h1v1h-1zM1069 832h1v1h-1zM1069 836h1v1h-1zM1069 840h1v1h-1zM1069 844h1v1h-1zM1069 848h1v1h-1zM1069 852h1v1h-1zM1069 856h1v1h-1zM1069 860h1v1h-1zM1069 864h1v1h-1zM1069 868h1v1h-1zM1069 872h1v1h-1zM1069 876h1v1h-1zM1069 880h1v1h-1zM1069 884h1v1h-1zM1069 888h1v1h-1zM1069 892h1v1h-1zM1069 896h1v1h-1zM1069 900h1v1h-1zM1069 904h1v1h-1zM1069 908h1v1h-1zM1069 912h1v1h-1zM1069 916h1v1h-1zM1069 920h1v1h-1zM1069 924h1v1h-1zM1069 928h1v1h-1zM1069 932h1v1h-1zM1069 936h1v1h-1zM1069 940h1v1h-1zM1069 944h1v1h-1z" fill="#000"/>
<path d="M1184 395h5v1h-5zM10 395h6v1h-6zM1187 399h2v1h-2zM10 399h3v1h-3zM1187 403h2v1h-2zM10 403h3v1h-3zM1187 407h2v1h-2zM10 407h3v1h-3zM1187 411h2v1h-2zM10 411h3v1h-3zM1185 416h4v1h-4zM10 416h5v1h-5zM1187 420h2v1h-2zM10 420h3v1h-3zM1187 424h2v1h-2zM10 424h3v1h-3zM1187 428h2v1h-2zM10 428h3v1h-3zM1187 432h2v1h-2zM10 432h3v1h-3zM1184 436h5v1h-5zM10 436h6v1h-6zM1187 440h2v1h-2zM10 440h3v1h-3zM1187 444h2v1h-2zM10 444h3v1h-3zM1187 448h2v1h-2zM10 448h3v1h-3zM1187 452h2v1h-2zM10 452h3v1h-3zM1185 456h4v1h-4zM10 456h5v1h-5zM1187 461h2v1h-2zM10 461h3v1h-3zM1187 465h2v1h-2zM10 465h3v1h-3zM1187 469h2v1h-2zM10 469h3v1h-3zM1187 473h2v1h-2zM10 473h3v1h-3zM1184 477h5v1h-5zM10 477h6v1h-6zM1187 481h2v1h-2zM10 481h3v1h-3zM1187 485h2v1h-2zM10 485h3v1h-3zM1187 489h2v1h-2zM10 489h3v1h-3zM1187 493h2v1h-2zM10 493h3v1h-3zM1185 497h4v1h-4zM10 497h5v1h-5zM1187 501h2v1h-2zM10 501h3v1h-3zM1187 505h2v1h-2zM10 505h3v1h-3zM1187 509h2v1h-2zM10 509h3v1h-3zM1187 513h2v1h-2zM10 513h3v1h-3zM1184 517h5v1h-5zM10 517h6v1h-6zM1187 521h2v1h-2zM10 521h3v1h-3zM1187 525h2v1h-2zM10 525h3v1h-3zM1187 529h2v1h-2zM10 529h3v1h-3zM1187 533h2v1h-2zM10 533h3v1h-3zM1185 538h4v1h-4zM10 538h5v1h-5zM1187 542h2v1h-2zM10 542h3v1h-3zM1187 546h2v1h-2zM10 546h3v1h-3zM1187 550h2v1h-2zM10 550h3v1h-3zM1187 554h2v1h-2zM10 554h3v1h-3zM1184 558h5v1h-5zM10 558h6v1h-6zM1187 562h2v1h-2zM10 562h3v1h-3zM1187 566h2v1h-2zM10 566h3v1h-3zM1187 570h2v1h-2zM10 570h3v1h-3zM1187 574h2v1h-2zM10 574h3v1h-3zM1185 578h4v1h-4zM10 578h5v1h-5zM1187 582h2v1h-2zM10 582h3v1h-3zM1187 586h2v1h-2zM10 586h3v1h-3zM1187 590h2v1h-2zM10 590h3v1h-3zM1187 594h2v1h-2zM10 594h3v1h-3zM1184 598h5v1h-5zM10 598h6v1h-6zM1187 602h2v1h-2zM10 602h3v1h-3zM1187 606h2v1h-2zM10 606h3v1h-3zM1187 610h2v1h-2zM10 610h3v1h-3zM1187 614h2v1h-2zM10 614h3v1h-3zM1185 618h4v1h-4zM10 618h5v1h-5zM1187 623h2v1h-2zM10 623h3v1h-3zM1187 627h2v1h-2zM10 627h3v1h-3zM1187 631h2v1h-2zM10 631h3v1h-3zM1187 635h2v1h-2zM10 635h3v1h-3zM1184 639h5v1h-5zM10 639h6v1h-6zM1187 643h2v1h-2zM10 643h3v1h-3zM1187 647h2v1h-2zM10 647h3v1h-3zM1187 651h2v1h-2zM10 651h3v1h-3zM1187 655h2v1h-2zM10 655h3v1h-3zM1185 660h4v1h-4zM10 660h5v1h-5zM1187 664h2v1h-2zM10 664h3v1h-3zM1187 668h2v1h-2zM10 668h3v1h-3zM1187 672h2v1h-2zM10 672h3v1h-3zM1187 676h2v1h-2zM10 676h3v1h-3zM1184 680h5v1h-5zM10 680h6v1h-6zM1187 684h2v1h-2zM10 684h3v1h-3zM1187 688h2v1h-2zM10 688h3v1h-3zM1187 692h2v1h-2zM10 692h3v1h-3zM1187 696h2v1h-2zM10 696h3v1h-3zM1185 700h4v1h-4zM10 700h5v1h-5zM1187 704h2v1h-2zM10 704h3v1h-3zM1187 708h2v1h-2zM10 708h3v1h-3zM1187 712h2v1h-2zM10 712h3v1h-3zM1187 716h2v1h-2zM10 716h3v1h-3zM1184 720h5v1h-5zM10 720h6v1h-6zM1187 724h2v1h-2zM10 724h3v1h-3zM1187 728h2v1h-2zM10 728h3v1h-3zM1187 732h2v1h-2zM10 732h3v1h-3zM1187 736h2v1h-2zM10 736h3v1h-3zM1185 740h4v1h-4zM10 740h5v1h-5zM1187 745h2v1h-2zM10 745h3v1h-3zM1187 749h2v1h-2zM10 749h3v1h-3zM1187 753h2v1h-2zM10 753h3v1h-3zM1187 757h2v1h-2zM10 757h3v1h-3zM1184 761h5v1h-5zM10 761h6v1h-6zM1187 765h2v1h-2zM10 765h3v1h-3zM1187 769h2v1h-2zM10 769h3v1h-3zM1187 773h2v1h-2zM10 773h3v1h-3zM1187 777h2v1h-2zM10 777h3v1h-3zM1185 782h4v1h-4zM10 782h5v1h-5zM1187 786h2v1h-2zM10 786h3v1h-3zM1187 790h2v1h-2zM10 790h3v1h-3zM1187 794h2v1h-2zM10 794h3v1h-3zM1187 798h2v1h-2zM10 798h3v1h-3zM1184 802h5v1h-5zM10 802h6v1h-6zM1187 806h2v1h-2zM10 806h3v1h-3zM1187 810h2v1h-2zM10 810h3v1h-3zM1187 814h2v1h-2zM10 814h3v1h-3zM1187 818h2v1h-2zM10 818h3v1h-3zM1185 822h4v1h-4zM10 822h5v1h-5zM1187 826h2v1h-2zM10 826h3v1h-3zM1187 830h2v1h-2zM10 830h3v1h-3zM1187 834h2v1h-2zM10 834h3v1h-3zM1187 838h2v1h-2zM10 838h3v1h-3zM1184 842h5v1h-5zM10 842h6v1h-6zM1187 846h2v1h-2zM10 846h3v1h-3zM1187 850h2v1h-2zM10 850h3v1h-3zM1187 854h2v1h-2zM10 854h3v1h-3zM1187 858h2v1h-2zM10 858h3v1h-3zM1185 862h4v1h-4zM10 862h5v1h-5zM1187 867h2v1h-2zM10 867h3v1h-3zM1187 871h2v1h-2zM10 871h3v1h-3zM1187 875h2v1h-2zM10 875h3v1h-3zM1187 879h2v1h-2zM10 879h3v1h-3zM1184 883h5v1h-5zM10 883h6v1h-6zM1187 887h2v1h-2zM10 887h3v1h-3zM1187 891h2v1h-2zM10 891h3v1h-3zM1187 895h2v1h-2zM10 895h3v1h-3zM1187 899h2v1h-2zM10 899h3v1h-3zM1185 903h4v1h-4zM10 903h5v1h-5zM1187 907h2v1h-2zM10 907h3v1h-3zM1187 911h2v1h-2zM10 911h3v1h-3zM1187 915h2v1h-2zM10 915h3v1h-3zM1187 919h2v1h-2zM10 919h3v1h-3zM1184 923h5v1h-5zM10 923h6v1h-6zM1187 927h2v1h-2zM10 927h3v1h-3zM1187 931h2v1h-2zM10 931h3v1h-3zM1187 935h2v1h-2zM10 935h3v1h-3zM1187 939h2v1h-2zM10 939h3v1h-3zM1185 944h4v1h-4zM10 944h5v1h-5zM1187 948h2v1h-2zM10 948h3v1h-3zM1187 387h2v1h-2zM10 387h3v1h-3zM1187 391h2v1h-2zM10 391h3v1h-3z" fill="#000"/>
</g>
<g>
<polyline points="16,507.5 29,528 42,571 55,543.5 68,532.5 81,505 94,471 107,479 120,455 133,475 146,514 159,551 172,554 185,500 198,481 211,477 224,467 237,492 250,492 263,490 276,494 289,513 302,526 315,520 328,529 341,518 354,544 367,513 380,484 393,481 406,516 419,542 432,553.5 445,591 458,600 471,623 484,649.5 497,639.5 510,671.5 523,688.5 536,625.3 549,616 562,584 575,596 588,618 601,622 614,651 627,629.6 640,555.7 653,583.5 666,628 679,655.8 692,669.7 705,666.7 718,635 731,666.7 744,671 757,647 770,698 783,690.8 796,656.5 809,640 822,631 835,623 848,645.7 861,626 874,618 887,611 900,605.7 913,617.7 926,556 939,500.8 952,485 965,405.4 978,396.7 991,409.8 1004,426.8 1017,507 1030,565.7 1043,571.7 1056,606.3 1069,622 1082,553.5 1095,584.2 1108,598.6 1121,606.2 1134,578.5 1147,637 1160,623.6" fill="none" stroke="#1a78b0" stroke-width="2.1" stroke-linejoin="miter" stroke-miterlimit="3"/>
<polyline points="16,670.4 29,683.6 42,703.6 55,685.3 68,689.8 81,684.5 94,661.8 107,682.5 120,669.6 133,670.7 146,660.8 159,676.7 172,655.8 185,630.8 198,600 211,609.5 224,602.7 237,616.6 250,617.9 263,635.1 276,645.6 289,647.7 302,647.7 315,651.9 328,656.9 341,642.8 354,656.9 367,647.7 380,641.7 393,651.9 406,663.5 419,662.7 432,670.8 445,692.5 458,693.6 471,725.9 484,744.4 497,733.8 510,757.7 523,755.9 536,733 549,724.5 562,707.9 575,714.6 588,721.1 601,722.8 614,741.6 627,734.1 640,709 653,721.1 666,754.9 679,772 692,776.9 705,761 718,741.9 731,765.9 744,769.8 757,759.9 770,775.8 783,765.5 796,754.7 809,753.4 822,744.5 835,728.8 848,748.7 861,742.8 874,745.9 887,740.6 900,744.8 913,748.7 926,713.8 939,695.9 952,694.8 965,660.7 978,658.6 991,660.9 1004,669.1 1017,714.4 1030,738.3 1043,753.6 1056,758.8 1069,762.1 1082,719.8 1095,743.7 1108,751.9 1121,751.9 1134,712.9 1147,733 1160,716.5" fill="none" stroke="#e21ee0" stroke-width="2.1" stroke-linejoin="miter" stroke-miterlimit="3"/>
<polyline points="16,833.8 29,839.8 42,837.7 55,828.7 68,848 81,870 94,880 107,880 120,875 133,866 146,812 159,802.8 172,756.2 185,757.8 198,720.1 211,743.1 224,738 237,741.8 250,742.9 263,781.1 276,797 289,783.5 302,770.1 315,782.7 328,784.8 341,768 354,770.4 367,786 380,801.4 393,821.6 406,815 419,784.2 432,788.3 445,794.9 458,787.2 471,828.5 484,839.1 497,828.9 510,841.6 523,821.6 536,838.3 549,833.9 562,830.6 575,833.2 588,823.9 601,822.7 614,832.9 627,839.1 640,861.5 653,862 666,882.5 679,889.1 692,885 705,855 718,849.7 731,864.8 744,869.4 757,874 770,852.6 783,841.1 796,851.4 809,866.9 822,857.6 835,834.7 848,852.2 861,859.2 874,874 887,869.9 900,884.1 913,878.4 926,872.7 939,892.3 952,906 965,915.6 978,920.7 991,912.8 1004,910.7 1017,920.7 1030,909.7 1043,936.2 1056,911.7 1069,902.8 1082,884.8 1095,902.8 1108,903.8 1121,898.5 1134,846.6 1147,830.5 1160,809.4" fill="none" stroke="#2ee02e" stroke-width="2.1" stroke-linejoin="miter" stroke-miterlimit="3"/>
</g>
<path d="M15 807h3v3h-3zM12 807h3v3h-3zM18 807h4v3h-4zM28 813h3v3h-3zM25 813h3v3h-3zM31 813h4v3h-4zM41 784h3v9h-3zM38 784h3v3h-3zM44 790h4v3h-4zM54 793h3v9h-3zM51 793h3v3h-3zM57 799h4v3h-4zM67 803h3v13h-3zM64 813h3v3h-3zM70 803h4v3h-4zM80 779h3v9h-3zM77 781h3v3h-3zM83 786h4v3h-4zM93 789h3v3h-3zM90 789h3v3h-3zM96 789h4v3h-4zM106 730h3v35h-3zM103 762h3v3h-3zM109 743h4v3h-4zM119 731h3v24h-3zM116 742h3v3h-3zM122 750h4v3h-4zM132 744h3v22h-3zM129 751h3v3h-3zM135 753h4v3h-4zM145 745h3v33h-3zM142 749h3v3h-3zM148 766h4v3h-4zM158 755h3v21h-3zM155 764h3v3h-3zM161 764h4v3h-4zM171 755h3v37h-3zM168 757h3v3h-3zM174 784h4v3h-4zM184 782h3v19h-3zM181 784h3v3h-3zM187 794h4v3h-4zM197 791h3v22h-3zM194 792h3v3h-3zM200 810h4v3h-4zM210 808h3v22h-3zM207 807h3v3h-3zM213 817h4v3h-4zM223 816h3v32h-3zM220 816h3v3h-3zM226 824h4v3h-4zM236 803h3v33h-3zM233 822h3v3h-3zM239 807h4v3h-4zM249 793h3v23h-3zM246 803h3v3h-3zM252 800h4v3h-4zM262 795h3v23h-3zM259 797h3v3h-3zM265 802h4v3h-4zM275 798h3v35h-3zM272 828h3v3h-3zM278 809h4v3h-4zM288 802h3v40h-3zM285 807h3v3h-3zM291 823h4v3h-4zM301 788h3v44h-3zM298 819h3v3h-3zM304 808h4v3h-4zM314 790h3v25h-3zM311 806h3v3h-3zM317 801h4v3h-4zM327 789h3v21h-3zM324 801h3v3h-3zM330 796h4v3h-4zM340 786h3v28h-3zM337 793h3v3h-3zM343 805h4v3h-4zM353 769h3v41h-3zM350 806h3v3h-3zM356 769h4v3h-4zM366 771h3v26h-3zM363 774h3v3h-3zM369 785h4v3h-4zM379 779h3v22h-3zM376 785h3v3h-3zM382 797h4v3h-4zM392 780h3v29h-3zM389 795h3v3h-3zM395 785h4v3h-4zM405 770h3v16h-3zM402 783h3v3h-3zM408 783h4v3h-4zM418 776h3v31h-3zM415 782h3v3h-3zM421 804h4v3h-4zM431 800h3v20h-3zM428 801h3v3h-3zM434 810h4v3h-4zM444 807h3v20h-3zM441 809h3v3h-3zM447 824h4v3h-4zM457 822h3v13h-3zM454 823h3v3h-3zM460 822h4v3h-4zM470 812h3v16h-3zM467 821h3v3h-3zM473 821h4v3h-4zM483 823h3v37h-3zM480 823h3v3h-3zM486 850h4v3h-4zM496 840h3v34h-3zM493 845h3v3h-3zM499 870h4v3h-4zM509 842h3v32h-3zM506 867h3v3h-3zM512 855h4v3h-4zM522 835h3v20h-3zM519 844h3v3h-3zM525 851h4v3h-4zM535 820h3v23h-3zM532 840h3v3h-3zM538 828h4v3h-4zM548 831h3v25h-3zM545 831h3v3h-3zM551 853h4v3h-4zM561 841h3v5h-3zM558 840h3v3h-3zM564 843h4v3h-4zM574 846h3v4h-3zM571 847h3v3h-3zM577 845h4v3h-4zM587 856h3v6h-3zM584 859h3v3h-3zM590 856h4v3h-4zM600 871h3v3h-3zM597 871h3v3h-3zM603 871h4v3h-4zM613 884h3v3h-3zM610 884h3v3h-3zM616 884h4v3h-4zM626 879h3v3h-3zM623 879h3v3h-3zM629 879h4v3h-4zM639 864h3v3h-3zM636 864h3v3h-3zM642 864h4v3h-4zM652 815h3v25h-3zM649 833h3v3h-3zM655 815h4v3h-4zM665 814h3v22h-3zM662 814h3v3h-3zM668 831h4v3h-4zM678 810h3v25h-3zM675 827h3v3h-3zM681 823h4v3h-4zM691 786h3v39h-3zM688 822h3v3h-3zM694 788h4v3h-4zM704 769h3v24h-3zM701 788h3v3h-3zM707 782h4v3h-4zM717 777h3v24h-3zM714 784h3v3h-3zM720 791h4v3h-4zM730 784h3v22h-3zM727 790h3v3h-3zM733 796h4v3h-4zM743 793h3v36h-3zM740 793h3v3h-3zM746 824h4v3h-4zM756 810h3v21h-3zM753 819h3v3h-3zM759 820h4v3h-4zM769 812h3v17h-3zM766 815h3v3h-3zM772 813h4v3h-4zM782 805h3v15h-3zM779 813h3v3h-3zM785 813h4v3h-4zM795 782h3v34h-3zM792 813h3v3h-3zM798 803h4v3h-4zM808 790h3v29h-3zM805 805h3v3h-3zM811 809h4v3h-4zM821 786h3v30h-3zM818 810h3v3h-3zM824 794h4v3h-4zM834 783h3v20h-3zM831 793h3v3h-3zM837 789h4v3h-4zM847 770h3v33h-3zM844 790h3v3h-3zM850 771h4v3h-4zM860 766h3v37h-3zM857 768h3v3h-3zM863 797h4v3h-4zM873 798h3v23h-3zM870 801h3v3h-3zM876 812h4v3h-4zM886 803h3v13h-3zM883 811h3v3h-3zM889 805h8v3h-8z" fill="#000" shape-rendering="crispEdges"/>
<text x="1219.0 1227.0 1235.0 1243.0 1251.0 1259.0" y="398" font-size="12.2" fill="#101010" text-anchor="middle" font-weight="normal">740-0&#x27;</text>
<text x="1219.0 1227.0 1235.0 1243.0 1251.0 1259.0" y="439" font-size="12.2" fill="#101010" text-anchor="middle" font-weight="normal">720-0&#x27;</text>
<text x="1219.0 1227.0 1235.0 1243.0 1251.0 1259.0" y="480" font-size="12.2" fill="#101010" text-anchor="middle" font-weight="normal">700-0&#x27;</text>
<text x="1219.0 1227.0 1235.0 1243.0 1251.0 1259.0" y="520" font-size="12.2" fill="#101010" text-anchor="middle" font-weight="normal">680-0&#x27;</text>
<text x="1219.0 1227.0 1235.0 1243.0 1251.0 1259.0" y="561" font-size="12.2" fill="#101010" text-anchor="middle" font-weight="normal">660-0&#x27;</text>
<text x="1219.0 1227.0 1235.0 1243.0 1251.0 1259.0" y="601" font-size="12.2" fill="#101010" text-anchor="middle" font-weight="normal">640-0&#x27;</text>
<text x="1219.0 1227.0 1235.0 1243.0 1251.0 1259.0" y="642" font-size="12.2" fill="#101010" text-anchor="middle" font-weight="normal">620-0&#x27;</text>
<text x="1219.0 1227.0 1235.0 1243.0 1251.0 1259.0" y="683" font-size="12.2" fill="#101010" text-anchor="middle" font-weight="normal">600-0&#x27;</text>
<text x="1219.0 1227.0 1235.0 1243.0 1251.0 1259.0" y="723" font-size="12.2" fill="#101010" text-anchor="middle" font-weight="normal">580-0&#x27;</text>
<text x="1219.0 1227.0 1235.0 1243.0 1251.0 1259.0" y="764" font-size="12.2" fill="#101010" text-anchor="middle" font-weight="normal">560-0&#x27;</text>
<text x="1219.0 1227.0 1235.0 1243.0 1251.0 1259.0" y="805" font-size="12.2" fill="#101010" text-anchor="middle" font-weight="normal">540-0&#x27;</text>
<text x="1219.0 1227.0 1235.0 1243.0 1251.0 1259.0" y="845" font-size="12.2" fill="#101010" text-anchor="middle" font-weight="normal">520-0&#x27;</text>
<text x="1219.0 1227.0 1235.0 1243.0 1251.0 1259.0" y="886" font-size="12.2" fill="#101010" text-anchor="middle" font-weight="normal">500-0&#x27;</text>
<text x="1219.0 1227.0 1235.0 1243.0 1251.0 1259.0" y="926" font-size="12.2" fill="#101010" text-anchor="middle" font-weight="normal">480-0&#x27;</text>
<text x="1141.3 1148.9 1156.5" y="616" font-size="11.6" fill="#1a78b0" text-anchor="middle" font-weight="normal">Two</text>
<text x="1109.4 1117.25 1125.1 1132.95 1140.8 1148.65 1156.5" y="709" font-size="11.6" fill="#e21ee0" text-anchor="middle" font-weight="normal">Average</text>
<text x="1133.4 1141.1 1148.8 1156.5" y="801.6" font-size="11.6" fill="#2ee02e" text-anchor="middle" font-weight="normal">Five</text>
<rect x="11" y="384" width="90" height="67" fill="#fff"/>
<text x="15.8 23.8 31.8 39.8 47.8 55.8" y="393.6" font-size="11.6" fill="#101010" text-anchor="middle" font-weight="normal">O=535-</text>
<text x="15.8 23.8 31.8 39.8 47.8 55.8 63.8 71.8 79.8" y="406.6" font-size="11.6" fill="#101010" text-anchor="middle" font-weight="normal">H=539-1/4</text>
<text x="15.8 23.8 31.8 39.8 47.8 55.8 63.8 71.8 79.8" y="419.6" font-size="11.6" fill="#101010" text-anchor="middle" font-weight="normal">L=533-1/4</text>
<text x="15.8 23.8 31.8 39.8 47.8 55.8 63.8 71.8 79.8" y="432.6" font-size="11.6" fill="#101010" text-anchor="middle" font-weight="normal">L=537-3/4</text>
<text x="15.8 23.8 39.8 47.8 55.8 63.8 71.8 79.8" y="445.6" font-size="11.6" fill="#101010" text-anchor="middle" font-weight="normal">Δ=+3-1/4</text>
<g shape-rendering="crispEdges">
<rect x="93" y="386" width="6" height="60" fill="#000" />
<rect x="94" y="387" width="4" height="13" fill="#e81010" />
<rect x="94" y="400" width="4" height="45" fill="#20e020" />
</g>
<path d="M93,425.5 L97,428.5 L93,431.5 Z" fill="#f0e020" stroke="#806000" stroke-width="0.5"/>
<g shape-rendering="crispEdges">
<rect x="10" y="842" width="132" height="108" fill="#7a7a7a" />
<rect x="11" y="843" width="130" height="106" fill="#ffffff" />
</g>
<text x="16.3 24.3 40.3 48.3 56.3 72.3 80.3" y="853.4" font-size="11.6" fill="#101010" text-anchor="middle" font-weight="normal">11Jun25</text>
<text x="16.3 24.3" y="866.4" font-size="11.6" fill="#101010" text-anchor="middle" font-weight="normal">O=</text>
<text x="88.3 96.3 104.3 112.3" y="866.4" font-size="11.6" fill="#101010" text-anchor="middle" font-weight="normal">535-</text>
<text x="16.3 24.3" y="879.4" font-size="11.6" fill="#101010" text-anchor="middle" font-weight="normal">H=</text>
<text x="88.3 96.3 104.3 112.3 120.3 128.3 136.3" y="879.4" font-size="11.6" fill="#101010" text-anchor="middle" font-weight="normal">539-1/4</text>
<text x="16.3 24.3" y="892.4" font-size="11.6" fill="#101010" text-anchor="middle" font-weight="normal">L=</text>
<text x="88.3 96.3 104.3 112.3 120.3 128.3 136.3" y="892.4" font-size="11.6" fill="#101010" text-anchor="middle" font-weight="normal">533-1/4</text>
<text x="16.3 24.3" y="905.4" font-size="11.6" fill="#101010" text-anchor="middle" font-weight="normal">C=</text>
<text x="88.3 96.3 104.3 112.3 120.3 128.3 136.3" y="905.4" font-size="11.6" fill="#101010" text-anchor="middle" font-weight="normal">537-3/4</text>
<text x="16.3 24.3 32.3 40.3" y="918.4" font-size="11.6" fill="#101010" text-anchor="middle" font-weight="normal">Two=</text>
<text x="88.3 96.3 104.3 112.3 120.3 128.3 136.3" y="918.4" font-size="11.6" fill="#101010" text-anchor="middle" font-weight="normal">633-3/4</text>
<text x="16.3 24.3 32.3 40.3 48.3" y="931.4" font-size="11.6" fill="#101010" text-anchor="middle" font-weight="normal">Five=</text>
<text x="88.3 96.3 104.3 112.3 120.3 128.3 136.3" y="931.4" font-size="11.6" fill="#101010" text-anchor="middle" font-weight="normal">506-1/4</text>
<text x="16.3 24.3 32.3 40.3 48.3 56.3 64.3 72.3" y="944.4" font-size="11.6" fill="#101010" text-anchor="middle" font-weight="normal">Average=</text>
<text x="88.3 96.3 104.3 112.3" y="944.4" font-size="11.6" fill="#101010" text-anchor="middle" font-weight="normal">570-</text>
<g shape-rendering="crispEdges">
<rect x="10" y="949" width="1" height="1" fill="#000" />
<rect x="23" y="949" width="1" height="1" fill="#000" />
<rect x="23" y="950" width="77" height="2" fill="#20e020" />
<rect x="23" y="952" width="1156" height="1" fill="#000" />
<rect x="646" y="949" width="533" height="4" fill="#000" />
<rect x="1179" y="949" width="11" height="1" fill="#000" />
<rect x="11" y="947" width="13" height="21" fill="#6a6a6a" />
<rect x="12" y="948" width="11" height="19" fill="#ffffff" />
<rect x="11" y="948" width="1" height="13" fill="#000" />
<rect x="42" y="952" width="1" height="14" fill="#000" />
<rect x="107" y="952" width="1" height="14" fill="#000" />
<rect x="172" y="952" width="1" height="14" fill="#000" />
<rect x="250" y="952" width="1" height="14" fill="#000" />
<rect x="302" y="952" width="1" height="14" fill="#000" />
<rect x="367" y="952" width="1" height="14" fill="#000" />
<rect x="419" y="952" width="1" height="14" fill="#000" />
<rect x="484" y="952" width="1" height="14" fill="#000" />
<rect x="523" y="952" width="1" height="14" fill="#000" />
<rect x="549" y="952" width="1" height="14" fill="#000" />
<rect x="614" y="952" width="1" height="14" fill="#000" />
<rect x="679" y="952" width="1" height="14" fill="#000" />
<rect x="744" y="952" width="1" height="14" fill="#000" />
<rect x="796" y="952" width="1" height="14" fill="#000" />
<rect x="861" y="952" width="1" height="14" fill="#000" />
<rect x="926" y="952" width="1" height="14" fill="#000" />
<rect x="991" y="952" width="1" height="14" fill="#000" />
<rect x="1069" y="952" width="1" height="14" fill="#000" />
<rect x="1121" y="952" width="1" height="14" fill="#000" />
</g>
<text x="48.3 55.3" y="964" font-size="12.2" fill="#101010" text-anchor="middle" font-weight="normal">10</text>
<text x="113.3 120.3" y="964" font-size="12.2" fill="#101010" text-anchor="middle" font-weight="normal">17</text>
<text x="178.3 185.3" y="964" font-size="12.2" fill="#101010" text-anchor="middle" font-weight="normal">24</text>
<text x="256.3 263.3" y="964" font-size="12.2" fill="#101010" text-anchor="middle" font-weight="normal">01</text>
<text x="308.3 315.3" y="964" font-size="12.2" fill="#101010" text-anchor="middle" font-weight="normal">07</text>
<text x="373.3 380.3" y="964" font-size="12.2" fill="#101010" text-anchor="middle" font-weight="normal">14</text>
<text x="425.3 432.3" y="964" font-size="12.2" fill="#101010" text-anchor="middle" font-weight="normal">21</text>
<text x="490.3 497.3" y="964" font-size="12.2" fill="#101010" text-anchor="middle" font-weight="normal">28</text>
<text x="529.3 536.3" y="964" font-size="12.2" fill="#101010" text-anchor="middle" font-weight="normal">01</text>
<text x="555.3 562.3" y="964" font-size="12.2" fill="#101010" text-anchor="middle" font-weight="normal">05</text>
<text x="620.3 627.3" y="964" font-size="12.2" fill="#101010" text-anchor="middle" font-weight="normal">12</text>
<text x="685.3 692.3" y="964" font-size="12.2" fill="#101010" text-anchor="middle" font-weight="normal">19</text>
<text x="750.3 757.3" y="964" font-size="12.2" fill="#101010" text-anchor="middle" font-weight="normal">27</text>
<text x="802.3 809.3" y="964" font-size="12.2" fill="#101010" text-anchor="middle" font-weight="normal">02</text>
<text x="867.3 874.3" y="964" font-size="12.2" fill="#101010" text-anchor="middle" font-weight="normal">09</text>
<text x="932.3 939.3" y="964" font-size="12.2" fill="#101010" text-anchor="middle" font-weight="normal">16</text>
<text x="997.3 1004.3" y="964" font-size="12.2" fill="#101010" text-anchor="middle" font-weight="normal">23</text>
<text x="1075.3 1082.3" y="964" font-size="12.2" fill="#101010" text-anchor="middle" font-weight="normal">01</text>
<text x="1127.3 1134.3" y="964" font-size="12.2" fill="#101010" text-anchor="middle" font-weight="normal">07</text>
<text x="256.0 264.0 272.0" y="946.7" font-size="12.2" fill="#101010" text-anchor="middle" font-weight="normal">Apr</text>
<text x="529.0 537.0 545.0" y="946.7" font-size="12.2" fill="#101010" text-anchor="middle" font-weight="normal">May</text>
<text x="802.0 810.0 818.0" y="946.7" font-size="12.2" fill="#101010" text-anchor="middle" font-weight="normal">Jun</text>
<text x="1075.0 1083.0 1091.0" y="946.7" font-size="12.2" fill="#101010" text-anchor="middle" font-weight="normal">Jul</text>
<rect x="1190" y="798" width="75" height="15" fill="#061606" shape-rendering="crispEdges"/>
<text x="1219.0 1227.0 1235.0 1243.0 1251.0 1259.0" y="808.6" font-size="12.2" fill="#eef4e8" text-anchor="middle" font-weight="normal">537-6&#x27;</text>
<path d="M1247,958 L1254.5,951 L1254.5,955 L1263,955 L1263,961.5 L1254.5,961.5 L1254.5,965 Z" fill="#ee0000" stroke="#9a0000" stroke-width="0.8"/>
</svg></body></html>
